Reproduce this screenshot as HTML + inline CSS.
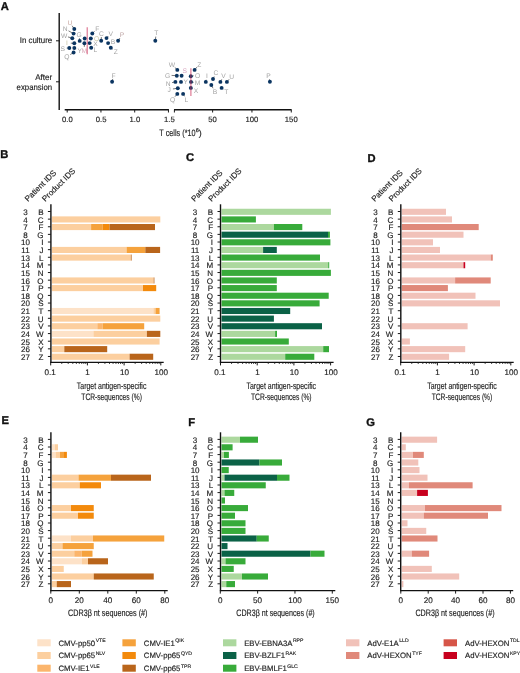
<!DOCTYPE html>
<html><head><meta charset="utf-8"><style>
html,body{margin:0;padding:0;background:#fff;}
svg{display:block;font-family:"Liberation Sans", sans-serif;text-rendering:geometricPrecision;will-change:transform;}
</style></head><body>
<svg width="520" height="673" viewBox="0 0 520 673">
<rect width="520" height="673" fill="#fff"/>
<text x="0.70" y="10.20" font-size="11.2" text-anchor="start" font-weight="bold" fill="#111" stroke="#111" stroke-width="0.35" >A</text>
<text x="0.20" y="158.40" font-size="11.2" text-anchor="start" font-weight="bold" fill="#111" stroke="#111" stroke-width="0.35" >B</text>
<text x="185.90" y="161.30" font-size="11.2" text-anchor="start" font-weight="bold" fill="#111" stroke="#111" stroke-width="0.35" >C</text>
<text x="367.40" y="161.80" font-size="11.2" text-anchor="start" font-weight="bold" fill="#111" stroke="#111" stroke-width="0.35" >D</text>
<text x="1.60" y="423.80" font-size="11.2" text-anchor="start" font-weight="bold" fill="#111" stroke="#111" stroke-width="0.35" >E</text>
<text x="188.20" y="425.50" font-size="11.2" text-anchor="start" font-weight="bold" fill="#111" stroke="#111" stroke-width="0.35" >F</text>
<text x="366.30" y="425.90" font-size="11.2" text-anchor="start" font-weight="bold" fill="#111" stroke="#111" stroke-width="0.35" >G</text>
<line x1="59.20" y1="12.90" x2="59.20" y2="110.00" stroke="#111" stroke-width="1.4" />
<line x1="64.70" y1="109.70" x2="168.90" y2="109.70" stroke="#111" stroke-width="1.4" />
<line x1="174.00" y1="109.70" x2="291.60" y2="109.70" stroke="#111" stroke-width="1.4" />
<line x1="56.00" y1="40.80" x2="59.20" y2="40.80" stroke="#1a1a1a" stroke-width="1.0" />
<line x1="56.00" y1="81.80" x2="59.20" y2="81.80" stroke="#1a1a1a" stroke-width="1.0" />
<line x1="67.20" y1="109.70" x2="67.20" y2="112.50" stroke="#1a1a1a" stroke-width="1.0" />
<text x="67.40" y="121.90" font-size="7.7" text-anchor="middle" font-weight="normal" fill="#222" stroke="#222" stroke-width="0.15" >0.0</text>
<line x1="100.95" y1="109.70" x2="100.95" y2="112.50" stroke="#1a1a1a" stroke-width="1.0" />
<text x="101.15" y="121.90" font-size="7.7" text-anchor="middle" font-weight="normal" fill="#222" stroke="#222" stroke-width="0.15" >0.5</text>
<line x1="134.70" y1="109.70" x2="134.70" y2="112.50" stroke="#1a1a1a" stroke-width="1.0" />
<text x="134.90" y="121.90" font-size="7.7" text-anchor="middle" font-weight="normal" fill="#222" stroke="#222" stroke-width="0.15" >1.0</text>
<line x1="168.45" y1="109.70" x2="168.45" y2="112.50" stroke="#1a1a1a" stroke-width="1.0" />
<text x="169.45" y="121.90" font-size="7.7" text-anchor="middle" font-weight="normal" fill="#222" stroke="#222" stroke-width="0.15" >1.5</text>
<line x1="212.62" y1="109.70" x2="212.62" y2="112.50" stroke="#1a1a1a" stroke-width="1.0" />
<text x="212.62" y="121.90" font-size="7.7" text-anchor="middle" font-weight="normal" fill="#222" stroke="#222" stroke-width="0.15" >50</text>
<line x1="251.95" y1="109.70" x2="251.95" y2="112.50" stroke="#1a1a1a" stroke-width="1.0" />
<text x="251.95" y="121.90" font-size="7.7" text-anchor="middle" font-weight="normal" fill="#222" stroke="#222" stroke-width="0.15" >100</text>
<line x1="291.27" y1="109.70" x2="291.27" y2="112.50" stroke="#1a1a1a" stroke-width="1.0" />
<text x="291.27" y="121.90" font-size="7.7" text-anchor="middle" font-weight="normal" fill="#222" stroke="#222" stroke-width="0.15" >150</text>
<line x1="174.40" y1="109.70" x2="174.40" y2="112.50" stroke="#1a1a1a" stroke-width="1.0" />
<text x="159.3" y="135.9" font-size="9.4" fill="#222" stroke="#222" stroke-width="0.15" textLength="36.3" lengthAdjust="spacingAndGlyphs">T cells (*10</text>
<text x="195.8" y="132.2" font-size="5.5" fill="#222" stroke="#222" stroke-width="0.2">6</text>
<text x="198.7" y="135.8" font-size="8.8" fill="#222" stroke="#222" stroke-width="0.15">)</text>
<text x="52.30" y="43.30" font-size="8.3" text-anchor="end" font-weight="normal" fill="#222" stroke="#222" stroke-width="0.15" textLength="32.6" lengthAdjust="spacingAndGlyphs">In culture</text>
<text x="52.10" y="79.80" font-size="8.3" text-anchor="end" font-weight="normal" fill="#222" stroke="#222" stroke-width="0.15" textLength="16.9" lengthAdjust="spacingAndGlyphs">After</text>
<text x="52.10" y="89.60" font-size="8.3" text-anchor="end" font-weight="normal" fill="#222" stroke="#222" stroke-width="0.15" textLength="35.5" lengthAdjust="spacingAndGlyphs">expansion</text>
<text x="69.90" y="24.90" font-size="6.7" text-anchor="middle" font-weight="normal" fill="#c8a8a2" >U</text>
<text x="65.10" y="31.40" font-size="6.7" text-anchor="middle" font-weight="normal" fill="#a4a4a4" >N</text>
<text x="64.20" y="38.20" font-size="6.7" text-anchor="middle" font-weight="normal" fill="#a4a4a4" >W</text>
<text x="66.90" y="45.40" font-size="6.7" text-anchor="middle" font-weight="normal" fill="#c9c4a8" >I</text>
<text x="62.80" y="50.70" font-size="6.7" text-anchor="middle" font-weight="normal" fill="#a4a4a4" >S</text>
<text x="79.70" y="52.80" font-size="6.7" text-anchor="middle" font-weight="normal" fill="#a4a4a4" >Y</text>
<text x="66.90" y="59.00" font-size="6.7" text-anchor="middle" font-weight="normal" fill="#a4a4a4" >Q</text>
<text x="79.10" y="36.70" font-size="6.7" text-anchor="middle" font-weight="normal" fill="#a4a4a4" >G</text>
<text x="84.20" y="53.20" font-size="6.7" text-anchor="middle" font-weight="normal" fill="#d8a8b8" >M</text>
<text x="97.30" y="30.90" font-size="6.7" text-anchor="middle" font-weight="normal" fill="#a4a4a4" >F</text>
<text x="96.50" y="40.50" font-size="6.7" text-anchor="middle" font-weight="normal" fill="#c8c4a0" >O</text>
<text x="95.40" y="46.20" font-size="6.7" text-anchor="middle" font-weight="normal" fill="#a4a4a4" >X</text>
<text x="95.40" y="52.00" font-size="6.7" text-anchor="middle" font-weight="normal" fill="#a4a4a4" >L</text>
<text x="101.50" y="35.50" font-size="6.7" text-anchor="middle" font-weight="normal" fill="#a4a4a4" >C</text>
<text x="110.80" y="35.50" font-size="6.7" text-anchor="middle" font-weight="normal" fill="#a4a4a4" >V</text>
<text x="113.10" y="44.30" font-size="6.7" text-anchor="middle" font-weight="normal" fill="#a4a4a4" >B</text>
<text x="115.80" y="53.90" font-size="6.7" text-anchor="middle" font-weight="normal" fill="#a4a4a4" >Z</text>
<text x="122.10" y="37.20" font-size="6.7" text-anchor="middle" font-weight="normal" fill="#c0a8a8" >P</text>
<text x="156.20" y="35.10" font-size="6.7" text-anchor="middle" font-weight="normal" fill="#a4a4a4" >T</text>
<line x1="72.09" y1="25.73" x2="74.30" y2="29.00" stroke="#222" stroke-width="0.6" />
<circle cx="74.30" cy="29.00" r="1.95" fill="#0b3561"/>
<line x1="68.53" y1="30.86" x2="73.60" y2="33.60" stroke="#222" stroke-width="0.6" />
<circle cx="73.60" cy="33.60" r="1.95" fill="#0b3561"/>
<line x1="67.94" y1="36.91" x2="72.30" y2="38.20" stroke="#222" stroke-width="0.6" />
<circle cx="72.30" cy="38.20" r="1.95" fill="#0b3561"/>
<line x1="70.80" y1="43.16" x2="74.30" y2="43.30" stroke="#222" stroke-width="0.6" />
<circle cx="74.30" cy="43.30" r="1.95" fill="#0b3561"/>
<line x1="66.70" y1="48.12" x2="69.30" y2="48.00" stroke="#222" stroke-width="0.6" />
<circle cx="69.30" cy="48.00" r="1.95" fill="#0b3561"/>
<line x1="76.14" y1="48.82" x2="74.30" y2="48.00" stroke="#222" stroke-width="0.6" />
<circle cx="74.30" cy="48.00" r="1.95" fill="#0b3561"/>
<line x1="70.23" y1="54.56" x2="73.60" y2="52.50" stroke="#222" stroke-width="0.6" />
<circle cx="73.60" cy="52.50" r="1.95" fill="#0b3561"/>
<line x1="79.45" y1="38.18" x2="79.70" y2="40.90" stroke="#222" stroke-width="0.6" />
<circle cx="79.70" cy="40.90" r="1.95" fill="#0b3561"/>
<circle cx="84.70" cy="38.50" r="1.95" fill="#0b3561"/>
<line x1="84.30" y1="46.90" x2="84.40" y2="43.30" stroke="#222" stroke-width="0.6" />
<circle cx="84.40" cy="43.30" r="1.95" fill="#0b3561"/>
<line x1="94.54" y1="31.26" x2="92.30" y2="33.50" stroke="#222" stroke-width="0.6" />
<circle cx="92.30" cy="33.50" r="1.95" fill="#0b3561"/>
<line x1="92.61" y1="38.37" x2="90.80" y2="38.50" stroke="#222" stroke-width="0.6" />
<circle cx="90.80" cy="38.50" r="1.95" fill="#0b3561"/>
<line x1="91.53" y1="43.33" x2="89.60" y2="43.10" stroke="#222" stroke-width="0.6" />
<circle cx="89.60" cy="43.10" r="1.95" fill="#0b3561"/>
<circle cx="91.20" cy="47.70" r="1.95" fill="#0b3561"/>
<line x1="101.35" y1="37.00" x2="101.20" y2="40.80" stroke="#222" stroke-width="0.6" />
<circle cx="101.20" cy="40.80" r="1.95" fill="#0b3561"/>
<line x1="108.26" y1="36.06" x2="106.50" y2="38.10" stroke="#222" stroke-width="0.6" />
<circle cx="106.50" cy="38.10" r="1.95" fill="#0b3561"/>
<circle cx="108.10" cy="43.10" r="1.95" fill="#0b3561"/>
<line x1="112.69" y1="49.14" x2="110.80" y2="47.70" stroke="#222" stroke-width="0.6" />
<circle cx="110.80" cy="47.70" r="1.95" fill="#0b3561"/>
<line x1="119.94" y1="38.04" x2="118.10" y2="40.80" stroke="#222" stroke-width="0.6" />
<circle cx="118.10" cy="40.80" r="1.95" fill="#0b3561"/>
<line x1="155.77" y1="36.58" x2="155.30" y2="40.80" stroke="#222" stroke-width="0.6" />
<circle cx="155.30" cy="40.80" r="1.95" fill="#0b3561"/>
<text x="172.00" y="67.00" font-size="6.7" text-anchor="middle" font-weight="normal" fill="#a4a4a4" >W</text>
<text x="199.40" y="66.50" font-size="6.7" text-anchor="middle" font-weight="normal" fill="#a4a4a4" >Z</text>
<text x="167.70" y="77.60" font-size="6.7" text-anchor="middle" font-weight="normal" fill="#a4a4a4" >G</text>
<text x="184.80" y="73.30" font-size="6.7" text-anchor="middle" font-weight="normal" fill="#d8a8c0" >S</text>
<text x="197.50" y="77.60" font-size="6.7" text-anchor="middle" font-weight="normal" fill="#a4a4a4" >O</text>
<text x="168.20" y="85.80" font-size="6.7" text-anchor="middle" font-weight="normal" fill="#a4a4a4" >N</text>
<text x="185.80" y="84.30" font-size="6.7" text-anchor="middle" font-weight="normal" fill="#a4a4a4" >Y</text>
<text x="197.50" y="85.30" font-size="6.7" text-anchor="middle" font-weight="normal" fill="#a4a4a4" >M</text>
<text x="169.10" y="92.00" font-size="6.7" text-anchor="middle" font-weight="normal" fill="#a4a4a4" >J</text>
<text x="196.00" y="92.50" font-size="6.7" text-anchor="middle" font-weight="normal" fill="#a4a4a4" >X</text>
<text x="172.50" y="102.10" font-size="6.7" text-anchor="middle" font-weight="normal" fill="#a4a4a4" >Q</text>
<text x="186.40" y="102.10" font-size="6.7" text-anchor="middle" font-weight="normal" fill="#a4a4a4" >L</text>
<text x="206.90" y="78.30" font-size="6.7" text-anchor="middle" font-weight="normal" fill="#a4a4a4" >I</text>
<text x="215.90" y="75.40" font-size="6.7" text-anchor="middle" font-weight="normal" fill="#a4a4a4" >C</text>
<text x="214.90" y="94.10" font-size="6.7" text-anchor="middle" font-weight="normal" fill="#a4a4a4" >B</text>
<text x="223.60" y="78.30" font-size="6.7" text-anchor="middle" font-weight="normal" fill="#a4a4a4" >V</text>
<text x="231.70" y="78.70" font-size="6.7" text-anchor="middle" font-weight="normal" fill="#a4a4a4" >U</text>
<text x="226.40" y="93.70" font-size="6.7" text-anchor="middle" font-weight="normal" fill="#a4a4a4" >T</text>
<text x="268.60" y="77.80" font-size="6.7" text-anchor="middle" font-weight="normal" fill="#a4a4a4" >P</text>
<text x="113.60" y="77.50" font-size="6.7" text-anchor="middle" font-weight="normal" fill="#a4a4a4" >F</text>
<line x1="174.76" y1="67.36" x2="177.30" y2="69.90" stroke="#222" stroke-width="0.6" />
<circle cx="177.30" cy="69.90" r="1.95" fill="#0b3561"/>
<line x1="196.91" y1="67.10" x2="194.60" y2="69.90" stroke="#222" stroke-width="0.6" />
<circle cx="194.60" cy="69.90" r="1.95" fill="#0b3561"/>
<line x1="171.59" y1="75.41" x2="176.80" y2="75.70" stroke="#222" stroke-width="0.6" />
<circle cx="176.80" cy="75.70" r="1.95" fill="#0b3561"/>
<line x1="182.64" y1="74.14" x2="181.60" y2="75.70" stroke="#222" stroke-width="0.6" />
<circle cx="181.60" cy="75.70" r="1.95" fill="#0b3561"/>
<line x1="193.64" y1="75.78" x2="190.80" y2="76.20" stroke="#222" stroke-width="0.6" />
<circle cx="190.80" cy="76.20" r="1.95" fill="#0b3561"/>
<line x1="172.02" y1="82.60" x2="175.40" y2="81.90" stroke="#222" stroke-width="0.6" />
<circle cx="175.40" cy="81.90" r="1.95" fill="#0b3561"/>
<circle cx="181.00" cy="81.90" r="1.95" fill="#0b3561"/>
<line x1="193.65" y1="82.31" x2="191.00" y2="81.90" stroke="#222" stroke-width="0.6" />
<circle cx="191.00" cy="81.90" r="1.95" fill="#0b3561"/>
<line x1="172.95" y1="88.98" x2="177.80" y2="88.20" stroke="#222" stroke-width="0.6" />
<circle cx="177.80" cy="88.20" r="1.95" fill="#0b3561"/>
<line x1="192.41" y1="88.58" x2="190.80" y2="87.90" stroke="#222" stroke-width="0.6" />
<circle cx="190.80" cy="87.90" r="1.95" fill="#0b3561"/>
<line x1="174.99" y1="96.70" x2="177.30" y2="93.90" stroke="#222" stroke-width="0.6" />
<circle cx="177.30" cy="93.90" r="1.95" fill="#0b3561"/>
<line x1="184.47" y1="96.31" x2="183.10" y2="93.90" stroke="#222" stroke-width="0.6" />
<circle cx="183.10" cy="93.90" r="1.95" fill="#0b3561"/>
<line x1="206.20" y1="79.74" x2="205.80" y2="81.90" stroke="#222" stroke-width="0.6" />
<circle cx="205.80" cy="81.90" r="1.95" fill="#0b3561"/>
<line x1="214.20" y1="76.51" x2="213.00" y2="79.00" stroke="#222" stroke-width="0.6" />
<circle cx="213.00" cy="79.00" r="1.95" fill="#0b3561"/>
<line x1="213.05" y1="88.26" x2="211.30" y2="85.00" stroke="#222" stroke-width="0.6" />
<circle cx="211.30" cy="85.00" r="1.95" fill="#0b3561"/>
<line x1="221.76" y1="79.34" x2="220.40" y2="81.90" stroke="#222" stroke-width="0.6" />
<circle cx="220.40" cy="81.90" r="1.95" fill="#0b3561"/>
<line x1="229.16" y1="79.26" x2="226.90" y2="81.90" stroke="#222" stroke-width="0.6" />
<circle cx="226.90" cy="81.90" r="1.95" fill="#0b3561"/>
<line x1="223.22" y1="89.05" x2="221.60" y2="87.90" stroke="#222" stroke-width="0.6" />
<circle cx="221.60" cy="87.90" r="1.95" fill="#0b3561"/>
<line x1="269.38" y1="79.22" x2="269.90" y2="81.80" stroke="#222" stroke-width="0.6" />
<circle cx="269.90" cy="81.80" r="1.95" fill="#0b3561"/>
<line x1="112.75" y1="78.91" x2="112.10" y2="81.80" stroke="#222" stroke-width="0.6" />
<circle cx="112.10" cy="81.80" r="1.95" fill="#0b3561"/>
<line x1="87.20" y1="27.30" x2="87.20" y2="54.20" stroke="#cc2f58" stroke-width="1.1" stroke-opacity="0.7"/>
<line x1="190.90" y1="68.20" x2="190.90" y2="95.90" stroke="#cc2f58" stroke-width="1.1" stroke-opacity="0.7"/>
<rect x="51.90" y="216.38" width="108.40" height="6.10" fill="#fccf9f"/>
<rect x="51.90" y="224.01" width="39.20" height="6.10" fill="#fccf9f"/>
<rect x="91.10" y="224.01" width="11.40" height="6.10" fill="#f5a23c"/>
<rect x="102.50" y="224.01" width="7.00" height="6.10" fill="#f38a0c"/>
<rect x="109.50" y="224.01" width="45.50" height="6.10" fill="#b9651b"/>
<rect x="51.90" y="246.90" width="74.70" height="6.10" fill="#fccf9f"/>
<rect x="126.60" y="246.90" width="18.70" height="6.10" fill="#f5a23c"/>
<rect x="145.30" y="246.90" width="14.80" height="6.10" fill="#b9651b"/>
<rect x="51.90" y="254.53" width="79.00" height="6.10" fill="#fccf9f"/>
<rect x="130.90" y="254.53" width="0.70" height="6.10" fill="#b9651b"/>
<rect x="51.90" y="277.42" width="101.80" height="6.10" fill="#fccf9f"/>
<rect x="153.70" y="277.42" width="0.70" height="6.10" fill="#b9651b"/>
<rect x="51.90" y="285.05" width="91.10" height="6.10" fill="#fccf9f"/>
<rect x="143.00" y="285.05" width="13.20" height="6.10" fill="#f38a0c"/>
<rect x="51.90" y="307.94" width="101.50" height="6.10" fill="#fde2c8"/>
<rect x="153.40" y="307.94" width="2.10" height="6.10" fill="#fccf9f"/>
<rect x="155.50" y="307.94" width="4.10" height="6.10" fill="#f5a23c"/>
<rect x="51.90" y="315.57" width="108.40" height="6.10" fill="#fccf9f"/>
<rect x="51.90" y="323.20" width="45.40" height="6.10" fill="#fccf9f"/>
<rect x="97.30" y="323.20" width="5.30" height="6.10" fill="#fbb56c"/>
<rect x="102.60" y="323.20" width="41.60" height="6.10" fill="#f5a23c"/>
<rect x="51.90" y="330.83" width="41.50" height="6.10" fill="#fde2c8"/>
<rect x="93.40" y="330.83" width="53.50" height="6.10" fill="#fccf9f"/>
<rect x="146.90" y="330.83" width="13.40" height="6.10" fill="#b9651b"/>
<rect x="51.90" y="338.46" width="107.70" height="6.10" fill="#fccf9f"/>
<rect x="51.90" y="346.09" width="12.40" height="6.10" fill="#fccf9f"/>
<rect x="64.30" y="346.09" width="42.90" height="6.10" fill="#b9651b"/>
<rect x="51.90" y="353.72" width="77.70" height="6.10" fill="#fccf9f"/>
<rect x="129.60" y="353.72" width="23.60" height="6.10" fill="#b9651b"/>
<line x1="50.90" y1="204.30" x2="50.90" y2="363.00" stroke="#111" stroke-width="1.4" />
<line x1="50.30" y1="362.40" x2="163.70" y2="362.40" stroke="#111" stroke-width="1.4" />
<line x1="47.90" y1="211.50" x2="50.90" y2="211.50" stroke="#1a1a1a" stroke-width="1.0" />
<text x="25.50" y="214.90" font-size="8.0" text-anchor="middle" font-weight="normal" fill="#222" stroke="#222" stroke-width="0.15" >3</text>
<text x="43.50" y="214.90" font-size="8.0" text-anchor="end" font-weight="normal" fill="#222" stroke="#222" stroke-width="0.15" >B</text>
<line x1="47.90" y1="219.13" x2="50.90" y2="219.13" stroke="#1a1a1a" stroke-width="1.0" />
<text x="25.50" y="222.53" font-size="8.0" text-anchor="middle" font-weight="normal" fill="#222" stroke="#222" stroke-width="0.15" >4</text>
<text x="43.50" y="222.53" font-size="8.0" text-anchor="end" font-weight="normal" fill="#222" stroke="#222" stroke-width="0.15" >C</text>
<line x1="47.90" y1="226.76" x2="50.90" y2="226.76" stroke="#1a1a1a" stroke-width="1.0" />
<text x="25.50" y="230.16" font-size="8.0" text-anchor="middle" font-weight="normal" fill="#222" stroke="#222" stroke-width="0.15" >7</text>
<text x="43.50" y="230.16" font-size="8.0" text-anchor="end" font-weight="normal" fill="#222" stroke="#222" stroke-width="0.15" >F</text>
<line x1="47.90" y1="234.39" x2="50.90" y2="234.39" stroke="#1a1a1a" stroke-width="1.0" />
<text x="25.50" y="237.79" font-size="8.0" text-anchor="middle" font-weight="normal" fill="#222" stroke="#222" stroke-width="0.15" >8</text>
<text x="43.50" y="237.79" font-size="8.0" text-anchor="end" font-weight="normal" fill="#222" stroke="#222" stroke-width="0.15" >G</text>
<line x1="47.90" y1="242.02" x2="50.90" y2="242.02" stroke="#1a1a1a" stroke-width="1.0" />
<text x="25.50" y="245.42" font-size="8.0" text-anchor="middle" font-weight="normal" fill="#222" stroke="#222" stroke-width="0.15" >10</text>
<text x="43.50" y="245.42" font-size="8.0" text-anchor="end" font-weight="normal" fill="#222" stroke="#222" stroke-width="0.15" >I</text>
<line x1="47.90" y1="249.65" x2="50.90" y2="249.65" stroke="#1a1a1a" stroke-width="1.0" />
<text x="25.50" y="253.05" font-size="8.0" text-anchor="middle" font-weight="normal" fill="#222" stroke="#222" stroke-width="0.15" >11</text>
<text x="43.50" y="253.05" font-size="8.0" text-anchor="end" font-weight="normal" fill="#222" stroke="#222" stroke-width="0.15" >J</text>
<line x1="47.90" y1="257.28" x2="50.90" y2="257.28" stroke="#1a1a1a" stroke-width="1.0" />
<text x="25.50" y="260.68" font-size="8.0" text-anchor="middle" font-weight="normal" fill="#222" stroke="#222" stroke-width="0.15" >13</text>
<text x="43.50" y="260.68" font-size="8.0" text-anchor="end" font-weight="normal" fill="#222" stroke="#222" stroke-width="0.15" >L</text>
<line x1="47.90" y1="264.91" x2="50.90" y2="264.91" stroke="#1a1a1a" stroke-width="1.0" />
<text x="25.50" y="268.31" font-size="8.0" text-anchor="middle" font-weight="normal" fill="#222" stroke="#222" stroke-width="0.15" >14</text>
<text x="43.50" y="268.31" font-size="8.0" text-anchor="end" font-weight="normal" fill="#222" stroke="#222" stroke-width="0.15" >M</text>
<line x1="47.90" y1="272.54" x2="50.90" y2="272.54" stroke="#1a1a1a" stroke-width="1.0" />
<text x="25.50" y="275.94" font-size="8.0" text-anchor="middle" font-weight="normal" fill="#222" stroke="#222" stroke-width="0.15" >15</text>
<text x="43.50" y="275.94" font-size="8.0" text-anchor="end" font-weight="normal" fill="#222" stroke="#222" stroke-width="0.15" >N</text>
<line x1="47.90" y1="280.17" x2="50.90" y2="280.17" stroke="#1a1a1a" stroke-width="1.0" />
<text x="25.50" y="283.57" font-size="8.0" text-anchor="middle" font-weight="normal" fill="#222" stroke="#222" stroke-width="0.15" >16</text>
<text x="43.50" y="283.57" font-size="8.0" text-anchor="end" font-weight="normal" fill="#222" stroke="#222" stroke-width="0.15" >O</text>
<line x1="47.90" y1="287.80" x2="50.90" y2="287.80" stroke="#1a1a1a" stroke-width="1.0" />
<text x="25.50" y="291.20" font-size="8.0" text-anchor="middle" font-weight="normal" fill="#222" stroke="#222" stroke-width="0.15" >17</text>
<text x="43.50" y="291.20" font-size="8.0" text-anchor="end" font-weight="normal" fill="#222" stroke="#222" stroke-width="0.15" >P</text>
<line x1="47.90" y1="295.43" x2="50.90" y2="295.43" stroke="#1a1a1a" stroke-width="1.0" />
<text x="25.50" y="298.83" font-size="8.0" text-anchor="middle" font-weight="normal" fill="#222" stroke="#222" stroke-width="0.15" >18</text>
<text x="43.50" y="298.83" font-size="8.0" text-anchor="end" font-weight="normal" fill="#222" stroke="#222" stroke-width="0.15" >Q</text>
<line x1="47.90" y1="303.06" x2="50.90" y2="303.06" stroke="#1a1a1a" stroke-width="1.0" />
<text x="25.50" y="306.46" font-size="8.0" text-anchor="middle" font-weight="normal" fill="#222" stroke="#222" stroke-width="0.15" >20</text>
<text x="43.50" y="306.46" font-size="8.0" text-anchor="end" font-weight="normal" fill="#222" stroke="#222" stroke-width="0.15" >S</text>
<line x1="47.90" y1="310.69" x2="50.90" y2="310.69" stroke="#1a1a1a" stroke-width="1.0" />
<text x="25.50" y="314.09" font-size="8.0" text-anchor="middle" font-weight="normal" fill="#222" stroke="#222" stroke-width="0.15" >21</text>
<text x="43.50" y="314.09" font-size="8.0" text-anchor="end" font-weight="normal" fill="#222" stroke="#222" stroke-width="0.15" >T</text>
<line x1="47.90" y1="318.32" x2="50.90" y2="318.32" stroke="#1a1a1a" stroke-width="1.0" />
<text x="25.50" y="321.72" font-size="8.0" text-anchor="middle" font-weight="normal" fill="#222" stroke="#222" stroke-width="0.15" >22</text>
<text x="43.50" y="321.72" font-size="8.0" text-anchor="end" font-weight="normal" fill="#222" stroke="#222" stroke-width="0.15" >U</text>
<line x1="47.90" y1="325.95" x2="50.90" y2="325.95" stroke="#1a1a1a" stroke-width="1.0" />
<text x="25.50" y="329.35" font-size="8.0" text-anchor="middle" font-weight="normal" fill="#222" stroke="#222" stroke-width="0.15" >23</text>
<text x="43.50" y="329.35" font-size="8.0" text-anchor="end" font-weight="normal" fill="#222" stroke="#222" stroke-width="0.15" >V</text>
<line x1="47.90" y1="333.58" x2="50.90" y2="333.58" stroke="#1a1a1a" stroke-width="1.0" />
<text x="25.50" y="336.98" font-size="8.0" text-anchor="middle" font-weight="normal" fill="#222" stroke="#222" stroke-width="0.15" >24</text>
<text x="43.50" y="336.98" font-size="8.0" text-anchor="end" font-weight="normal" fill="#222" stroke="#222" stroke-width="0.15" >W</text>
<line x1="47.90" y1="341.21" x2="50.90" y2="341.21" stroke="#1a1a1a" stroke-width="1.0" />
<text x="25.50" y="344.61" font-size="8.0" text-anchor="middle" font-weight="normal" fill="#222" stroke="#222" stroke-width="0.15" >25</text>
<text x="43.50" y="344.61" font-size="8.0" text-anchor="end" font-weight="normal" fill="#222" stroke="#222" stroke-width="0.15" >X</text>
<line x1="47.90" y1="348.84" x2="50.90" y2="348.84" stroke="#1a1a1a" stroke-width="1.0" />
<text x="25.50" y="352.24" font-size="8.0" text-anchor="middle" font-weight="normal" fill="#222" stroke="#222" stroke-width="0.15" >26</text>
<text x="43.50" y="352.24" font-size="8.0" text-anchor="end" font-weight="normal" fill="#222" stroke="#222" stroke-width="0.15" >Y</text>
<line x1="47.90" y1="356.47" x2="50.90" y2="356.47" stroke="#1a1a1a" stroke-width="1.0" />
<text x="25.50" y="359.87" font-size="8.0" text-anchor="middle" font-weight="normal" fill="#222" stroke="#222" stroke-width="0.15" >27</text>
<text x="43.50" y="359.87" font-size="8.0" text-anchor="end" font-weight="normal" fill="#222" stroke="#222" stroke-width="0.15" >Z</text>
<line x1="50.70" y1="362.40" x2="50.70" y2="365.40" stroke="#1a1a1a" stroke-width="1.0" />
<line x1="87.40" y1="362.40" x2="87.40" y2="365.40" stroke="#1a1a1a" stroke-width="1.0" />
<line x1="124.10" y1="362.40" x2="124.10" y2="365.40" stroke="#1a1a1a" stroke-width="1.0" />
<line x1="160.80" y1="362.40" x2="160.80" y2="365.40" stroke="#1a1a1a" stroke-width="1.0" />
<line x1="61.75" y1="362.40" x2="61.75" y2="364.00" stroke="#1a1a1a" stroke-width="0.8" />
<line x1="68.21" y1="362.40" x2="68.21" y2="364.00" stroke="#1a1a1a" stroke-width="0.8" />
<line x1="72.80" y1="362.40" x2="72.80" y2="364.00" stroke="#1a1a1a" stroke-width="0.8" />
<line x1="76.35" y1="362.40" x2="76.35" y2="364.00" stroke="#1a1a1a" stroke-width="0.8" />
<line x1="79.26" y1="362.40" x2="79.26" y2="364.00" stroke="#1a1a1a" stroke-width="0.8" />
<line x1="81.72" y1="362.40" x2="81.72" y2="364.00" stroke="#1a1a1a" stroke-width="0.8" />
<line x1="83.84" y1="362.40" x2="83.84" y2="364.00" stroke="#1a1a1a" stroke-width="0.8" />
<line x1="85.72" y1="362.40" x2="85.72" y2="364.00" stroke="#1a1a1a" stroke-width="0.8" />
<line x1="98.45" y1="362.40" x2="98.45" y2="364.00" stroke="#1a1a1a" stroke-width="0.8" />
<line x1="104.91" y1="362.40" x2="104.91" y2="364.00" stroke="#1a1a1a" stroke-width="0.8" />
<line x1="109.50" y1="362.40" x2="109.50" y2="364.00" stroke="#1a1a1a" stroke-width="0.8" />
<line x1="113.05" y1="362.40" x2="113.05" y2="364.00" stroke="#1a1a1a" stroke-width="0.8" />
<line x1="115.96" y1="362.40" x2="115.96" y2="364.00" stroke="#1a1a1a" stroke-width="0.8" />
<line x1="118.42" y1="362.40" x2="118.42" y2="364.00" stroke="#1a1a1a" stroke-width="0.8" />
<line x1="120.54" y1="362.40" x2="120.54" y2="364.00" stroke="#1a1a1a" stroke-width="0.8" />
<line x1="122.42" y1="362.40" x2="122.42" y2="364.00" stroke="#1a1a1a" stroke-width="0.8" />
<line x1="135.15" y1="362.40" x2="135.15" y2="364.00" stroke="#1a1a1a" stroke-width="0.8" />
<line x1="141.61" y1="362.40" x2="141.61" y2="364.00" stroke="#1a1a1a" stroke-width="0.8" />
<line x1="146.20" y1="362.40" x2="146.20" y2="364.00" stroke="#1a1a1a" stroke-width="0.8" />
<line x1="149.75" y1="362.40" x2="149.75" y2="364.00" stroke="#1a1a1a" stroke-width="0.8" />
<line x1="152.66" y1="362.40" x2="152.66" y2="364.00" stroke="#1a1a1a" stroke-width="0.8" />
<line x1="155.12" y1="362.40" x2="155.12" y2="364.00" stroke="#1a1a1a" stroke-width="0.8" />
<line x1="157.24" y1="362.40" x2="157.24" y2="364.00" stroke="#1a1a1a" stroke-width="0.8" />
<line x1="159.12" y1="362.40" x2="159.12" y2="364.00" stroke="#1a1a1a" stroke-width="0.8" />
<text x="50.20" y="374.70" font-size="8.1" text-anchor="middle" font-weight="normal" fill="#222" stroke="#222" stroke-width="0.15" >0.1</text>
<text x="87.60" y="374.70" font-size="8.1" text-anchor="middle" font-weight="normal" fill="#222" stroke="#222" stroke-width="0.15" >1</text>
<text x="124.40" y="374.70" font-size="8.1" text-anchor="middle" font-weight="normal" fill="#222" stroke="#222" stroke-width="0.15" >10</text>
<text x="161.20" y="374.70" font-size="8.1" text-anchor="middle" font-weight="normal" fill="#222" stroke="#222" stroke-width="0.15" >100</text>
<text x="76.80" y="389.00" font-size="9.4" fill="#222" stroke="#222" stroke-width="0.15" textLength="69.60" lengthAdjust="spacingAndGlyphs">Target antigen-specific</text>
<text x="81.30" y="400.30" font-size="9.4" fill="#222" stroke="#222" stroke-width="0.15" textLength="60.60" lengthAdjust="spacingAndGlyphs">TCR-sequences (%)</text>
<rect x="221.50" y="208.75" width="109.40" height="6.10" fill="#acd89e"/>
<rect x="221.50" y="216.38" width="34.40" height="6.10" fill="#38ab3a"/>
<rect x="221.50" y="224.01" width="52.40" height="6.10" fill="#acd89e"/>
<rect x="273.90" y="224.01" width="28.40" height="6.10" fill="#38ab3a"/>
<rect x="221.50" y="231.64" width="106.50" height="6.10" fill="#0b6247"/>
<rect x="328.00" y="231.64" width="1.90" height="6.10" fill="#38ab3a"/>
<rect x="221.50" y="239.27" width="108.90" height="6.10" fill="#38ab3a"/>
<rect x="221.50" y="246.90" width="41.60" height="6.10" fill="#acd89e"/>
<rect x="263.10" y="246.90" width="13.70" height="6.10" fill="#0b6247"/>
<rect x="221.50" y="254.53" width="98.50" height="6.10" fill="#38ab3a"/>
<rect x="221.50" y="262.16" width="106.70" height="6.10" fill="#acd89e"/>
<rect x="328.20" y="262.16" width="1.00" height="6.10" fill="#38ab3a"/>
<rect x="221.50" y="269.79" width="109.40" height="6.10" fill="#38ab3a"/>
<rect x="221.50" y="277.42" width="55.30" height="6.10" fill="#38ab3a"/>
<rect x="221.50" y="285.05" width="55.30" height="6.10" fill="#38ab3a"/>
<rect x="221.50" y="292.68" width="107.20" height="6.10" fill="#38ab3a"/>
<rect x="221.50" y="300.31" width="98.10" height="6.10" fill="#38ab3a"/>
<rect x="221.50" y="307.94" width="68.70" height="6.10" fill="#0b6247"/>
<rect x="221.50" y="315.57" width="52.40" height="6.10" fill="#0b6247"/>
<rect x="221.50" y="323.20" width="100.50" height="6.10" fill="#0b6247"/>
<rect x="221.50" y="330.83" width="53.60" height="6.10" fill="#acd89e"/>
<rect x="275.10" y="330.83" width="1.90" height="6.10" fill="#38ab3a"/>
<rect x="221.50" y="338.46" width="67.30" height="6.10" fill="#38ab3a"/>
<rect x="221.50" y="346.09" width="101.70" height="6.10" fill="#acd89e"/>
<rect x="323.20" y="346.09" width="5.80" height="6.10" fill="#38ab3a"/>
<rect x="221.50" y="353.72" width="63.70" height="6.10" fill="#acd89e"/>
<rect x="285.20" y="353.72" width="29.10" height="6.10" fill="#38ab3a"/>
<line x1="220.50" y1="204.30" x2="220.50" y2="363.00" stroke="#111" stroke-width="1.4" />
<line x1="219.90" y1="362.40" x2="333.60" y2="362.40" stroke="#111" stroke-width="1.4" />
<line x1="217.50" y1="211.50" x2="220.50" y2="211.50" stroke="#1a1a1a" stroke-width="1.0" />
<text x="195.10" y="214.90" font-size="8.0" text-anchor="middle" font-weight="normal" fill="#222" stroke="#222" stroke-width="0.15" >3</text>
<text x="213.10" y="214.90" font-size="8.0" text-anchor="end" font-weight="normal" fill="#222" stroke="#222" stroke-width="0.15" >B</text>
<line x1="217.50" y1="219.13" x2="220.50" y2="219.13" stroke="#1a1a1a" stroke-width="1.0" />
<text x="195.10" y="222.53" font-size="8.0" text-anchor="middle" font-weight="normal" fill="#222" stroke="#222" stroke-width="0.15" >4</text>
<text x="213.10" y="222.53" font-size="8.0" text-anchor="end" font-weight="normal" fill="#222" stroke="#222" stroke-width="0.15" >C</text>
<line x1="217.50" y1="226.76" x2="220.50" y2="226.76" stroke="#1a1a1a" stroke-width="1.0" />
<text x="195.10" y="230.16" font-size="8.0" text-anchor="middle" font-weight="normal" fill="#222" stroke="#222" stroke-width="0.15" >7</text>
<text x="213.10" y="230.16" font-size="8.0" text-anchor="end" font-weight="normal" fill="#222" stroke="#222" stroke-width="0.15" >F</text>
<line x1="217.50" y1="234.39" x2="220.50" y2="234.39" stroke="#1a1a1a" stroke-width="1.0" />
<text x="195.10" y="237.79" font-size="8.0" text-anchor="middle" font-weight="normal" fill="#222" stroke="#222" stroke-width="0.15" >8</text>
<text x="213.10" y="237.79" font-size="8.0" text-anchor="end" font-weight="normal" fill="#222" stroke="#222" stroke-width="0.15" >G</text>
<line x1="217.50" y1="242.02" x2="220.50" y2="242.02" stroke="#1a1a1a" stroke-width="1.0" />
<text x="195.10" y="245.42" font-size="8.0" text-anchor="middle" font-weight="normal" fill="#222" stroke="#222" stroke-width="0.15" >10</text>
<text x="213.10" y="245.42" font-size="8.0" text-anchor="end" font-weight="normal" fill="#222" stroke="#222" stroke-width="0.15" >I</text>
<line x1="217.50" y1="249.65" x2="220.50" y2="249.65" stroke="#1a1a1a" stroke-width="1.0" />
<text x="195.10" y="253.05" font-size="8.0" text-anchor="middle" font-weight="normal" fill="#222" stroke="#222" stroke-width="0.15" >11</text>
<text x="213.10" y="253.05" font-size="8.0" text-anchor="end" font-weight="normal" fill="#222" stroke="#222" stroke-width="0.15" >J</text>
<line x1="217.50" y1="257.28" x2="220.50" y2="257.28" stroke="#1a1a1a" stroke-width="1.0" />
<text x="195.10" y="260.68" font-size="8.0" text-anchor="middle" font-weight="normal" fill="#222" stroke="#222" stroke-width="0.15" >13</text>
<text x="213.10" y="260.68" font-size="8.0" text-anchor="end" font-weight="normal" fill="#222" stroke="#222" stroke-width="0.15" >L</text>
<line x1="217.50" y1="264.91" x2="220.50" y2="264.91" stroke="#1a1a1a" stroke-width="1.0" />
<text x="195.10" y="268.31" font-size="8.0" text-anchor="middle" font-weight="normal" fill="#222" stroke="#222" stroke-width="0.15" >14</text>
<text x="213.10" y="268.31" font-size="8.0" text-anchor="end" font-weight="normal" fill="#222" stroke="#222" stroke-width="0.15" >M</text>
<line x1="217.50" y1="272.54" x2="220.50" y2="272.54" stroke="#1a1a1a" stroke-width="1.0" />
<text x="195.10" y="275.94" font-size="8.0" text-anchor="middle" font-weight="normal" fill="#222" stroke="#222" stroke-width="0.15" >15</text>
<text x="213.10" y="275.94" font-size="8.0" text-anchor="end" font-weight="normal" fill="#222" stroke="#222" stroke-width="0.15" >N</text>
<line x1="217.50" y1="280.17" x2="220.50" y2="280.17" stroke="#1a1a1a" stroke-width="1.0" />
<text x="195.10" y="283.57" font-size="8.0" text-anchor="middle" font-weight="normal" fill="#222" stroke="#222" stroke-width="0.15" >16</text>
<text x="213.10" y="283.57" font-size="8.0" text-anchor="end" font-weight="normal" fill="#222" stroke="#222" stroke-width="0.15" >O</text>
<line x1="217.50" y1="287.80" x2="220.50" y2="287.80" stroke="#1a1a1a" stroke-width="1.0" />
<text x="195.10" y="291.20" font-size="8.0" text-anchor="middle" font-weight="normal" fill="#222" stroke="#222" stroke-width="0.15" >17</text>
<text x="213.10" y="291.20" font-size="8.0" text-anchor="end" font-weight="normal" fill="#222" stroke="#222" stroke-width="0.15" >P</text>
<line x1="217.50" y1="295.43" x2="220.50" y2="295.43" stroke="#1a1a1a" stroke-width="1.0" />
<text x="195.10" y="298.83" font-size="8.0" text-anchor="middle" font-weight="normal" fill="#222" stroke="#222" stroke-width="0.15" >18</text>
<text x="213.10" y="298.83" font-size="8.0" text-anchor="end" font-weight="normal" fill="#222" stroke="#222" stroke-width="0.15" >Q</text>
<line x1="217.50" y1="303.06" x2="220.50" y2="303.06" stroke="#1a1a1a" stroke-width="1.0" />
<text x="195.10" y="306.46" font-size="8.0" text-anchor="middle" font-weight="normal" fill="#222" stroke="#222" stroke-width="0.15" >20</text>
<text x="213.10" y="306.46" font-size="8.0" text-anchor="end" font-weight="normal" fill="#222" stroke="#222" stroke-width="0.15" >S</text>
<line x1="217.50" y1="310.69" x2="220.50" y2="310.69" stroke="#1a1a1a" stroke-width="1.0" />
<text x="195.10" y="314.09" font-size="8.0" text-anchor="middle" font-weight="normal" fill="#222" stroke="#222" stroke-width="0.15" >21</text>
<text x="213.10" y="314.09" font-size="8.0" text-anchor="end" font-weight="normal" fill="#222" stroke="#222" stroke-width="0.15" >T</text>
<line x1="217.50" y1="318.32" x2="220.50" y2="318.32" stroke="#1a1a1a" stroke-width="1.0" />
<text x="195.10" y="321.72" font-size="8.0" text-anchor="middle" font-weight="normal" fill="#222" stroke="#222" stroke-width="0.15" >22</text>
<text x="213.10" y="321.72" font-size="8.0" text-anchor="end" font-weight="normal" fill="#222" stroke="#222" stroke-width="0.15" >U</text>
<line x1="217.50" y1="325.95" x2="220.50" y2="325.95" stroke="#1a1a1a" stroke-width="1.0" />
<text x="195.10" y="329.35" font-size="8.0" text-anchor="middle" font-weight="normal" fill="#222" stroke="#222" stroke-width="0.15" >23</text>
<text x="213.10" y="329.35" font-size="8.0" text-anchor="end" font-weight="normal" fill="#222" stroke="#222" stroke-width="0.15" >V</text>
<line x1="217.50" y1="333.58" x2="220.50" y2="333.58" stroke="#1a1a1a" stroke-width="1.0" />
<text x="195.10" y="336.98" font-size="8.0" text-anchor="middle" font-weight="normal" fill="#222" stroke="#222" stroke-width="0.15" >24</text>
<text x="213.10" y="336.98" font-size="8.0" text-anchor="end" font-weight="normal" fill="#222" stroke="#222" stroke-width="0.15" >W</text>
<line x1="217.50" y1="341.21" x2="220.50" y2="341.21" stroke="#1a1a1a" stroke-width="1.0" />
<text x="195.10" y="344.61" font-size="8.0" text-anchor="middle" font-weight="normal" fill="#222" stroke="#222" stroke-width="0.15" >25</text>
<text x="213.10" y="344.61" font-size="8.0" text-anchor="end" font-weight="normal" fill="#222" stroke="#222" stroke-width="0.15" >X</text>
<line x1="217.50" y1="348.84" x2="220.50" y2="348.84" stroke="#1a1a1a" stroke-width="1.0" />
<text x="195.10" y="352.24" font-size="8.0" text-anchor="middle" font-weight="normal" fill="#222" stroke="#222" stroke-width="0.15" >26</text>
<text x="213.10" y="352.24" font-size="8.0" text-anchor="end" font-weight="normal" fill="#222" stroke="#222" stroke-width="0.15" >Y</text>
<line x1="217.50" y1="356.47" x2="220.50" y2="356.47" stroke="#1a1a1a" stroke-width="1.0" />
<text x="195.10" y="359.87" font-size="8.0" text-anchor="middle" font-weight="normal" fill="#222" stroke="#222" stroke-width="0.15" >27</text>
<text x="213.10" y="359.87" font-size="8.0" text-anchor="end" font-weight="normal" fill="#222" stroke="#222" stroke-width="0.15" >Z</text>
<line x1="220.50" y1="362.40" x2="220.50" y2="365.40" stroke="#1a1a1a" stroke-width="1.0" />
<line x1="257.20" y1="362.40" x2="257.20" y2="365.40" stroke="#1a1a1a" stroke-width="1.0" />
<line x1="293.90" y1="362.40" x2="293.90" y2="365.40" stroke="#1a1a1a" stroke-width="1.0" />
<line x1="330.60" y1="362.40" x2="330.60" y2="365.40" stroke="#1a1a1a" stroke-width="1.0" />
<line x1="231.55" y1="362.40" x2="231.55" y2="364.00" stroke="#1a1a1a" stroke-width="0.8" />
<line x1="238.01" y1="362.40" x2="238.01" y2="364.00" stroke="#1a1a1a" stroke-width="0.8" />
<line x1="242.60" y1="362.40" x2="242.60" y2="364.00" stroke="#1a1a1a" stroke-width="0.8" />
<line x1="246.15" y1="362.40" x2="246.15" y2="364.00" stroke="#1a1a1a" stroke-width="0.8" />
<line x1="249.06" y1="362.40" x2="249.06" y2="364.00" stroke="#1a1a1a" stroke-width="0.8" />
<line x1="251.52" y1="362.40" x2="251.52" y2="364.00" stroke="#1a1a1a" stroke-width="0.8" />
<line x1="253.64" y1="362.40" x2="253.64" y2="364.00" stroke="#1a1a1a" stroke-width="0.8" />
<line x1="255.52" y1="362.40" x2="255.52" y2="364.00" stroke="#1a1a1a" stroke-width="0.8" />
<line x1="268.25" y1="362.40" x2="268.25" y2="364.00" stroke="#1a1a1a" stroke-width="0.8" />
<line x1="274.71" y1="362.40" x2="274.71" y2="364.00" stroke="#1a1a1a" stroke-width="0.8" />
<line x1="279.30" y1="362.40" x2="279.30" y2="364.00" stroke="#1a1a1a" stroke-width="0.8" />
<line x1="282.85" y1="362.40" x2="282.85" y2="364.00" stroke="#1a1a1a" stroke-width="0.8" />
<line x1="285.76" y1="362.40" x2="285.76" y2="364.00" stroke="#1a1a1a" stroke-width="0.8" />
<line x1="288.22" y1="362.40" x2="288.22" y2="364.00" stroke="#1a1a1a" stroke-width="0.8" />
<line x1="290.34" y1="362.40" x2="290.34" y2="364.00" stroke="#1a1a1a" stroke-width="0.8" />
<line x1="292.22" y1="362.40" x2="292.22" y2="364.00" stroke="#1a1a1a" stroke-width="0.8" />
<line x1="304.95" y1="362.40" x2="304.95" y2="364.00" stroke="#1a1a1a" stroke-width="0.8" />
<line x1="311.41" y1="362.40" x2="311.41" y2="364.00" stroke="#1a1a1a" stroke-width="0.8" />
<line x1="316.00" y1="362.40" x2="316.00" y2="364.00" stroke="#1a1a1a" stroke-width="0.8" />
<line x1="319.55" y1="362.40" x2="319.55" y2="364.00" stroke="#1a1a1a" stroke-width="0.8" />
<line x1="322.46" y1="362.40" x2="322.46" y2="364.00" stroke="#1a1a1a" stroke-width="0.8" />
<line x1="324.92" y1="362.40" x2="324.92" y2="364.00" stroke="#1a1a1a" stroke-width="0.8" />
<line x1="327.04" y1="362.40" x2="327.04" y2="364.00" stroke="#1a1a1a" stroke-width="0.8" />
<line x1="328.92" y1="362.40" x2="328.92" y2="364.00" stroke="#1a1a1a" stroke-width="0.8" />
<text x="220.00" y="374.70" font-size="8.1" text-anchor="middle" font-weight="normal" fill="#222" stroke="#222" stroke-width="0.15" >0.1</text>
<text x="257.40" y="374.70" font-size="8.1" text-anchor="middle" font-weight="normal" fill="#222" stroke="#222" stroke-width="0.15" >1</text>
<text x="294.20" y="374.70" font-size="8.1" text-anchor="middle" font-weight="normal" fill="#222" stroke="#222" stroke-width="0.15" >10</text>
<text x="331.00" y="374.70" font-size="8.1" text-anchor="middle" font-weight="normal" fill="#222" stroke="#222" stroke-width="0.15" >100</text>
<text x="246.50" y="389.00" font-size="9.4" fill="#222" stroke="#222" stroke-width="0.15" textLength="69.60" lengthAdjust="spacingAndGlyphs">Target antigen-specific</text>
<text x="251.00" y="400.30" font-size="9.4" fill="#222" stroke="#222" stroke-width="0.15" textLength="60.60" lengthAdjust="spacingAndGlyphs">TCR-sequences (%)</text>
<rect x="401.80" y="208.75" width="44.20" height="6.10" fill="#f1c2b9"/>
<rect x="401.80" y="216.38" width="50.20" height="6.10" fill="#f1c2b9"/>
<rect x="401.80" y="224.01" width="76.90" height="6.10" fill="#e0897a"/>
<rect x="401.80" y="231.64" width="61.70" height="6.10" fill="#f1c2b9"/>
<rect x="401.80" y="239.27" width="31.20" height="6.10" fill="#f1c2b9"/>
<rect x="401.80" y="246.90" width="38.20" height="6.10" fill="#f1c2b9"/>
<rect x="401.80" y="254.53" width="88.90" height="6.10" fill="#f1c2b9"/>
<rect x="490.70" y="254.53" width="2.10" height="6.10" fill="#e0897a"/>
<rect x="401.80" y="262.16" width="61.70" height="6.10" fill="#f1c2b9"/>
<rect x="463.50" y="262.16" width="1.70" height="6.10" fill="#c8001e"/>
<rect x="401.80" y="277.42" width="53.30" height="6.10" fill="#f1c2b9"/>
<rect x="455.10" y="277.42" width="35.60" height="6.10" fill="#e0897a"/>
<rect x="401.80" y="285.05" width="46.10" height="6.10" fill="#e0897a"/>
<rect x="401.80" y="292.68" width="73.70" height="6.10" fill="#f1c2b9"/>
<rect x="401.80" y="300.31" width="98.20" height="6.10" fill="#f1c2b9"/>
<rect x="401.80" y="323.20" width="65.80" height="6.10" fill="#f1c2b9"/>
<rect x="401.80" y="338.46" width="8.10" height="6.10" fill="#f1c2b9"/>
<rect x="401.80" y="346.09" width="63.40" height="6.10" fill="#f1c2b9"/>
<rect x="401.80" y="353.72" width="47.30" height="6.10" fill="#f1c2b9"/>
<line x1="400.80" y1="204.30" x2="400.80" y2="363.00" stroke="#111" stroke-width="1.4" />
<line x1="400.20" y1="362.40" x2="513.70" y2="362.40" stroke="#111" stroke-width="1.4" />
<line x1="397.80" y1="211.50" x2="400.80" y2="211.50" stroke="#1a1a1a" stroke-width="1.0" />
<text x="375.40" y="214.90" font-size="8.0" text-anchor="middle" font-weight="normal" fill="#222" stroke="#222" stroke-width="0.15" >3</text>
<text x="393.40" y="214.90" font-size="8.0" text-anchor="end" font-weight="normal" fill="#222" stroke="#222" stroke-width="0.15" >B</text>
<line x1="397.80" y1="219.13" x2="400.80" y2="219.13" stroke="#1a1a1a" stroke-width="1.0" />
<text x="375.40" y="222.53" font-size="8.0" text-anchor="middle" font-weight="normal" fill="#222" stroke="#222" stroke-width="0.15" >4</text>
<text x="393.40" y="222.53" font-size="8.0" text-anchor="end" font-weight="normal" fill="#222" stroke="#222" stroke-width="0.15" >C</text>
<line x1="397.80" y1="226.76" x2="400.80" y2="226.76" stroke="#1a1a1a" stroke-width="1.0" />
<text x="375.40" y="230.16" font-size="8.0" text-anchor="middle" font-weight="normal" fill="#222" stroke="#222" stroke-width="0.15" >7</text>
<text x="393.40" y="230.16" font-size="8.0" text-anchor="end" font-weight="normal" fill="#222" stroke="#222" stroke-width="0.15" >F</text>
<line x1="397.80" y1="234.39" x2="400.80" y2="234.39" stroke="#1a1a1a" stroke-width="1.0" />
<text x="375.40" y="237.79" font-size="8.0" text-anchor="middle" font-weight="normal" fill="#222" stroke="#222" stroke-width="0.15" >8</text>
<text x="393.40" y="237.79" font-size="8.0" text-anchor="end" font-weight="normal" fill="#222" stroke="#222" stroke-width="0.15" >G</text>
<line x1="397.80" y1="242.02" x2="400.80" y2="242.02" stroke="#1a1a1a" stroke-width="1.0" />
<text x="375.40" y="245.42" font-size="8.0" text-anchor="middle" font-weight="normal" fill="#222" stroke="#222" stroke-width="0.15" >10</text>
<text x="393.40" y="245.42" font-size="8.0" text-anchor="end" font-weight="normal" fill="#222" stroke="#222" stroke-width="0.15" >I</text>
<line x1="397.80" y1="249.65" x2="400.80" y2="249.65" stroke="#1a1a1a" stroke-width="1.0" />
<text x="375.40" y="253.05" font-size="8.0" text-anchor="middle" font-weight="normal" fill="#222" stroke="#222" stroke-width="0.15" >11</text>
<text x="393.40" y="253.05" font-size="8.0" text-anchor="end" font-weight="normal" fill="#222" stroke="#222" stroke-width="0.15" >J</text>
<line x1="397.80" y1="257.28" x2="400.80" y2="257.28" stroke="#1a1a1a" stroke-width="1.0" />
<text x="375.40" y="260.68" font-size="8.0" text-anchor="middle" font-weight="normal" fill="#222" stroke="#222" stroke-width="0.15" >13</text>
<text x="393.40" y="260.68" font-size="8.0" text-anchor="end" font-weight="normal" fill="#222" stroke="#222" stroke-width="0.15" >L</text>
<line x1="397.80" y1="264.91" x2="400.80" y2="264.91" stroke="#1a1a1a" stroke-width="1.0" />
<text x="375.40" y="268.31" font-size="8.0" text-anchor="middle" font-weight="normal" fill="#222" stroke="#222" stroke-width="0.15" >14</text>
<text x="393.40" y="268.31" font-size="8.0" text-anchor="end" font-weight="normal" fill="#222" stroke="#222" stroke-width="0.15" >M</text>
<line x1="397.80" y1="272.54" x2="400.80" y2="272.54" stroke="#1a1a1a" stroke-width="1.0" />
<text x="375.40" y="275.94" font-size="8.0" text-anchor="middle" font-weight="normal" fill="#222" stroke="#222" stroke-width="0.15" >15</text>
<text x="393.40" y="275.94" font-size="8.0" text-anchor="end" font-weight="normal" fill="#222" stroke="#222" stroke-width="0.15" >N</text>
<line x1="397.80" y1="280.17" x2="400.80" y2="280.17" stroke="#1a1a1a" stroke-width="1.0" />
<text x="375.40" y="283.57" font-size="8.0" text-anchor="middle" font-weight="normal" fill="#222" stroke="#222" stroke-width="0.15" >16</text>
<text x="393.40" y="283.57" font-size="8.0" text-anchor="end" font-weight="normal" fill="#222" stroke="#222" stroke-width="0.15" >O</text>
<line x1="397.80" y1="287.80" x2="400.80" y2="287.80" stroke="#1a1a1a" stroke-width="1.0" />
<text x="375.40" y="291.20" font-size="8.0" text-anchor="middle" font-weight="normal" fill="#222" stroke="#222" stroke-width="0.15" >17</text>
<text x="393.40" y="291.20" font-size="8.0" text-anchor="end" font-weight="normal" fill="#222" stroke="#222" stroke-width="0.15" >P</text>
<line x1="397.80" y1="295.43" x2="400.80" y2="295.43" stroke="#1a1a1a" stroke-width="1.0" />
<text x="375.40" y="298.83" font-size="8.0" text-anchor="middle" font-weight="normal" fill="#222" stroke="#222" stroke-width="0.15" >18</text>
<text x="393.40" y="298.83" font-size="8.0" text-anchor="end" font-weight="normal" fill="#222" stroke="#222" stroke-width="0.15" >Q</text>
<line x1="397.80" y1="303.06" x2="400.80" y2="303.06" stroke="#1a1a1a" stroke-width="1.0" />
<text x="375.40" y="306.46" font-size="8.0" text-anchor="middle" font-weight="normal" fill="#222" stroke="#222" stroke-width="0.15" >20</text>
<text x="393.40" y="306.46" font-size="8.0" text-anchor="end" font-weight="normal" fill="#222" stroke="#222" stroke-width="0.15" >S</text>
<line x1="397.80" y1="310.69" x2="400.80" y2="310.69" stroke="#1a1a1a" stroke-width="1.0" />
<text x="375.40" y="314.09" font-size="8.0" text-anchor="middle" font-weight="normal" fill="#222" stroke="#222" stroke-width="0.15" >21</text>
<text x="393.40" y="314.09" font-size="8.0" text-anchor="end" font-weight="normal" fill="#222" stroke="#222" stroke-width="0.15" >T</text>
<line x1="397.80" y1="318.32" x2="400.80" y2="318.32" stroke="#1a1a1a" stroke-width="1.0" />
<text x="375.40" y="321.72" font-size="8.0" text-anchor="middle" font-weight="normal" fill="#222" stroke="#222" stroke-width="0.15" >22</text>
<text x="393.40" y="321.72" font-size="8.0" text-anchor="end" font-weight="normal" fill="#222" stroke="#222" stroke-width="0.15" >U</text>
<line x1="397.80" y1="325.95" x2="400.80" y2="325.95" stroke="#1a1a1a" stroke-width="1.0" />
<text x="375.40" y="329.35" font-size="8.0" text-anchor="middle" font-weight="normal" fill="#222" stroke="#222" stroke-width="0.15" >23</text>
<text x="393.40" y="329.35" font-size="8.0" text-anchor="end" font-weight="normal" fill="#222" stroke="#222" stroke-width="0.15" >V</text>
<line x1="397.80" y1="333.58" x2="400.80" y2="333.58" stroke="#1a1a1a" stroke-width="1.0" />
<text x="375.40" y="336.98" font-size="8.0" text-anchor="middle" font-weight="normal" fill="#222" stroke="#222" stroke-width="0.15" >24</text>
<text x="393.40" y="336.98" font-size="8.0" text-anchor="end" font-weight="normal" fill="#222" stroke="#222" stroke-width="0.15" >W</text>
<line x1="397.80" y1="341.21" x2="400.80" y2="341.21" stroke="#1a1a1a" stroke-width="1.0" />
<text x="375.40" y="344.61" font-size="8.0" text-anchor="middle" font-weight="normal" fill="#222" stroke="#222" stroke-width="0.15" >25</text>
<text x="393.40" y="344.61" font-size="8.0" text-anchor="end" font-weight="normal" fill="#222" stroke="#222" stroke-width="0.15" >X</text>
<line x1="397.80" y1="348.84" x2="400.80" y2="348.84" stroke="#1a1a1a" stroke-width="1.0" />
<text x="375.40" y="352.24" font-size="8.0" text-anchor="middle" font-weight="normal" fill="#222" stroke="#222" stroke-width="0.15" >26</text>
<text x="393.40" y="352.24" font-size="8.0" text-anchor="end" font-weight="normal" fill="#222" stroke="#222" stroke-width="0.15" >Y</text>
<line x1="397.80" y1="356.47" x2="400.80" y2="356.47" stroke="#1a1a1a" stroke-width="1.0" />
<text x="375.40" y="359.87" font-size="8.0" text-anchor="middle" font-weight="normal" fill="#222" stroke="#222" stroke-width="0.15" >27</text>
<text x="393.40" y="359.87" font-size="8.0" text-anchor="end" font-weight="normal" fill="#222" stroke="#222" stroke-width="0.15" >Z</text>
<line x1="400.70" y1="362.40" x2="400.70" y2="365.40" stroke="#1a1a1a" stroke-width="1.0" />
<line x1="437.40" y1="362.40" x2="437.40" y2="365.40" stroke="#1a1a1a" stroke-width="1.0" />
<line x1="474.10" y1="362.40" x2="474.10" y2="365.40" stroke="#1a1a1a" stroke-width="1.0" />
<line x1="510.80" y1="362.40" x2="510.80" y2="365.40" stroke="#1a1a1a" stroke-width="1.0" />
<line x1="411.75" y1="362.40" x2="411.75" y2="364.00" stroke="#1a1a1a" stroke-width="0.8" />
<line x1="418.21" y1="362.40" x2="418.21" y2="364.00" stroke="#1a1a1a" stroke-width="0.8" />
<line x1="422.80" y1="362.40" x2="422.80" y2="364.00" stroke="#1a1a1a" stroke-width="0.8" />
<line x1="426.35" y1="362.40" x2="426.35" y2="364.00" stroke="#1a1a1a" stroke-width="0.8" />
<line x1="429.26" y1="362.40" x2="429.26" y2="364.00" stroke="#1a1a1a" stroke-width="0.8" />
<line x1="431.72" y1="362.40" x2="431.72" y2="364.00" stroke="#1a1a1a" stroke-width="0.8" />
<line x1="433.84" y1="362.40" x2="433.84" y2="364.00" stroke="#1a1a1a" stroke-width="0.8" />
<line x1="435.72" y1="362.40" x2="435.72" y2="364.00" stroke="#1a1a1a" stroke-width="0.8" />
<line x1="448.45" y1="362.40" x2="448.45" y2="364.00" stroke="#1a1a1a" stroke-width="0.8" />
<line x1="454.91" y1="362.40" x2="454.91" y2="364.00" stroke="#1a1a1a" stroke-width="0.8" />
<line x1="459.50" y1="362.40" x2="459.50" y2="364.00" stroke="#1a1a1a" stroke-width="0.8" />
<line x1="463.05" y1="362.40" x2="463.05" y2="364.00" stroke="#1a1a1a" stroke-width="0.8" />
<line x1="465.96" y1="362.40" x2="465.96" y2="364.00" stroke="#1a1a1a" stroke-width="0.8" />
<line x1="468.42" y1="362.40" x2="468.42" y2="364.00" stroke="#1a1a1a" stroke-width="0.8" />
<line x1="470.54" y1="362.40" x2="470.54" y2="364.00" stroke="#1a1a1a" stroke-width="0.8" />
<line x1="472.42" y1="362.40" x2="472.42" y2="364.00" stroke="#1a1a1a" stroke-width="0.8" />
<line x1="485.15" y1="362.40" x2="485.15" y2="364.00" stroke="#1a1a1a" stroke-width="0.8" />
<line x1="491.61" y1="362.40" x2="491.61" y2="364.00" stroke="#1a1a1a" stroke-width="0.8" />
<line x1="496.20" y1="362.40" x2="496.20" y2="364.00" stroke="#1a1a1a" stroke-width="0.8" />
<line x1="499.75" y1="362.40" x2="499.75" y2="364.00" stroke="#1a1a1a" stroke-width="0.8" />
<line x1="502.66" y1="362.40" x2="502.66" y2="364.00" stroke="#1a1a1a" stroke-width="0.8" />
<line x1="505.12" y1="362.40" x2="505.12" y2="364.00" stroke="#1a1a1a" stroke-width="0.8" />
<line x1="507.24" y1="362.40" x2="507.24" y2="364.00" stroke="#1a1a1a" stroke-width="0.8" />
<line x1="509.12" y1="362.40" x2="509.12" y2="364.00" stroke="#1a1a1a" stroke-width="0.8" />
<text x="400.20" y="374.70" font-size="8.1" text-anchor="middle" font-weight="normal" fill="#222" stroke="#222" stroke-width="0.15" >0.1</text>
<text x="437.60" y="374.70" font-size="8.1" text-anchor="middle" font-weight="normal" fill="#222" stroke="#222" stroke-width="0.15" >1</text>
<text x="474.40" y="374.70" font-size="8.1" text-anchor="middle" font-weight="normal" fill="#222" stroke="#222" stroke-width="0.15" >10</text>
<text x="511.20" y="374.70" font-size="8.1" text-anchor="middle" font-weight="normal" fill="#222" stroke="#222" stroke-width="0.15" >100</text>
<text x="427.20" y="389.00" font-size="9.4" fill="#222" stroke="#222" stroke-width="0.15" textLength="69.60" lengthAdjust="spacingAndGlyphs">Target antigen-specific</text>
<text x="431.70" y="400.30" font-size="9.4" fill="#222" stroke="#222" stroke-width="0.15" textLength="60.60" lengthAdjust="spacingAndGlyphs">TCR-sequences (%)</text>
<rect x="51.90" y="444.25" width="3.10" height="6.10" fill="#fde2c8"/>
<rect x="55.00" y="444.25" width="3.00" height="6.10" fill="#fccf9f"/>
<rect x="51.90" y="451.85" width="3.60" height="6.10" fill="#fde2c8"/>
<rect x="55.50" y="451.85" width="4.50" height="6.10" fill="#fccf9f"/>
<rect x="60.00" y="451.85" width="4.00" height="6.10" fill="#f5a23c"/>
<rect x="64.00" y="451.85" width="2.90" height="6.10" fill="#f38a0c"/>
<rect x="51.90" y="474.65" width="26.60" height="6.10" fill="#fccf9f"/>
<rect x="78.50" y="474.65" width="32.50" height="6.10" fill="#f5a23c"/>
<rect x="111.00" y="474.65" width="40.00" height="6.10" fill="#b9651b"/>
<rect x="51.90" y="482.25" width="27.85" height="6.10" fill="#fccf9f"/>
<rect x="79.75" y="482.25" width="21.25" height="6.10" fill="#f38a0c"/>
<rect x="51.90" y="505.05" width="19.10" height="6.10" fill="#fccf9f"/>
<rect x="71.00" y="505.05" width="22.75" height="6.10" fill="#f38a0c"/>
<rect x="51.90" y="512.65" width="26.10" height="6.10" fill="#fccf9f"/>
<rect x="78.00" y="512.65" width="15.75" height="6.10" fill="#f38a0c"/>
<rect x="51.90" y="535.45" width="19.10" height="6.10" fill="#fde2c8"/>
<rect x="71.00" y="535.45" width="22.00" height="6.10" fill="#fccf9f"/>
<rect x="93.00" y="535.45" width="71.25" height="6.10" fill="#f5a23c"/>
<rect x="51.90" y="543.05" width="10.60" height="6.10" fill="#fccf9f"/>
<rect x="62.50" y="543.05" width="31.25" height="6.10" fill="#f5a23c"/>
<rect x="51.90" y="550.65" width="22.35" height="6.10" fill="#fccf9f"/>
<rect x="74.25" y="550.65" width="7.50" height="6.10" fill="#fbb56c"/>
<rect x="81.75" y="550.65" width="10.75" height="6.10" fill="#f5a23c"/>
<rect x="51.90" y="558.25" width="29.85" height="6.10" fill="#fde2c8"/>
<rect x="81.75" y="558.25" width="6.25" height="6.10" fill="#fccf9f"/>
<rect x="88.00" y="558.25" width="20.00" height="6.10" fill="#b9651b"/>
<rect x="51.90" y="565.85" width="11.85" height="6.10" fill="#fccf9f"/>
<rect x="51.90" y="573.45" width="41.85" height="6.10" fill="#fccf9f"/>
<rect x="93.75" y="573.45" width="60.00" height="6.10" fill="#b9651b"/>
<rect x="51.90" y="581.05" width="4.85" height="6.10" fill="#fccf9f"/>
<rect x="56.75" y="581.05" width="14.25" height="6.10" fill="#b9651b"/>
<line x1="50.90" y1="432.30" x2="50.90" y2="591.20" stroke="#111" stroke-width="1.4" />
<line x1="50.30" y1="590.60" x2="167.70" y2="590.60" stroke="#111" stroke-width="1.4" />
<line x1="47.90" y1="439.40" x2="50.90" y2="439.40" stroke="#1a1a1a" stroke-width="1.0" />
<text x="25.50" y="442.80" font-size="8.0" text-anchor="middle" font-weight="normal" fill="#222" stroke="#222" stroke-width="0.15" >3</text>
<text x="43.50" y="442.80" font-size="8.0" text-anchor="end" font-weight="normal" fill="#222" stroke="#222" stroke-width="0.15" >B</text>
<line x1="47.90" y1="447.00" x2="50.90" y2="447.00" stroke="#1a1a1a" stroke-width="1.0" />
<text x="25.50" y="450.40" font-size="8.0" text-anchor="middle" font-weight="normal" fill="#222" stroke="#222" stroke-width="0.15" >4</text>
<text x="43.50" y="450.40" font-size="8.0" text-anchor="end" font-weight="normal" fill="#222" stroke="#222" stroke-width="0.15" >C</text>
<line x1="47.90" y1="454.60" x2="50.90" y2="454.60" stroke="#1a1a1a" stroke-width="1.0" />
<text x="25.50" y="458.00" font-size="8.0" text-anchor="middle" font-weight="normal" fill="#222" stroke="#222" stroke-width="0.15" >7</text>
<text x="43.50" y="458.00" font-size="8.0" text-anchor="end" font-weight="normal" fill="#222" stroke="#222" stroke-width="0.15" >F</text>
<line x1="47.90" y1="462.20" x2="50.90" y2="462.20" stroke="#1a1a1a" stroke-width="1.0" />
<text x="25.50" y="465.60" font-size="8.0" text-anchor="middle" font-weight="normal" fill="#222" stroke="#222" stroke-width="0.15" >8</text>
<text x="43.50" y="465.60" font-size="8.0" text-anchor="end" font-weight="normal" fill="#222" stroke="#222" stroke-width="0.15" >G</text>
<line x1="47.90" y1="469.80" x2="50.90" y2="469.80" stroke="#1a1a1a" stroke-width="1.0" />
<text x="25.50" y="473.20" font-size="8.0" text-anchor="middle" font-weight="normal" fill="#222" stroke="#222" stroke-width="0.15" >10</text>
<text x="43.50" y="473.20" font-size="8.0" text-anchor="end" font-weight="normal" fill="#222" stroke="#222" stroke-width="0.15" >I</text>
<line x1="47.90" y1="477.40" x2="50.90" y2="477.40" stroke="#1a1a1a" stroke-width="1.0" />
<text x="25.50" y="480.80" font-size="8.0" text-anchor="middle" font-weight="normal" fill="#222" stroke="#222" stroke-width="0.15" >11</text>
<text x="43.50" y="480.80" font-size="8.0" text-anchor="end" font-weight="normal" fill="#222" stroke="#222" stroke-width="0.15" >J</text>
<line x1="47.90" y1="485.00" x2="50.90" y2="485.00" stroke="#1a1a1a" stroke-width="1.0" />
<text x="25.50" y="488.40" font-size="8.0" text-anchor="middle" font-weight="normal" fill="#222" stroke="#222" stroke-width="0.15" >13</text>
<text x="43.50" y="488.40" font-size="8.0" text-anchor="end" font-weight="normal" fill="#222" stroke="#222" stroke-width="0.15" >L</text>
<line x1="47.90" y1="492.60" x2="50.90" y2="492.60" stroke="#1a1a1a" stroke-width="1.0" />
<text x="25.50" y="496.00" font-size="8.0" text-anchor="middle" font-weight="normal" fill="#222" stroke="#222" stroke-width="0.15" >14</text>
<text x="43.50" y="496.00" font-size="8.0" text-anchor="end" font-weight="normal" fill="#222" stroke="#222" stroke-width="0.15" >M</text>
<line x1="47.90" y1="500.20" x2="50.90" y2="500.20" stroke="#1a1a1a" stroke-width="1.0" />
<text x="25.50" y="503.60" font-size="8.0" text-anchor="middle" font-weight="normal" fill="#222" stroke="#222" stroke-width="0.15" >15</text>
<text x="43.50" y="503.60" font-size="8.0" text-anchor="end" font-weight="normal" fill="#222" stroke="#222" stroke-width="0.15" >N</text>
<line x1="47.90" y1="507.80" x2="50.90" y2="507.80" stroke="#1a1a1a" stroke-width="1.0" />
<text x="25.50" y="511.20" font-size="8.0" text-anchor="middle" font-weight="normal" fill="#222" stroke="#222" stroke-width="0.15" >16</text>
<text x="43.50" y="511.20" font-size="8.0" text-anchor="end" font-weight="normal" fill="#222" stroke="#222" stroke-width="0.15" >O</text>
<line x1="47.90" y1="515.40" x2="50.90" y2="515.40" stroke="#1a1a1a" stroke-width="1.0" />
<text x="25.50" y="518.80" font-size="8.0" text-anchor="middle" font-weight="normal" fill="#222" stroke="#222" stroke-width="0.15" >17</text>
<text x="43.50" y="518.80" font-size="8.0" text-anchor="end" font-weight="normal" fill="#222" stroke="#222" stroke-width="0.15" >P</text>
<line x1="47.90" y1="523.00" x2="50.90" y2="523.00" stroke="#1a1a1a" stroke-width="1.0" />
<text x="25.50" y="526.40" font-size="8.0" text-anchor="middle" font-weight="normal" fill="#222" stroke="#222" stroke-width="0.15" >18</text>
<text x="43.50" y="526.40" font-size="8.0" text-anchor="end" font-weight="normal" fill="#222" stroke="#222" stroke-width="0.15" >Q</text>
<line x1="47.90" y1="530.60" x2="50.90" y2="530.60" stroke="#1a1a1a" stroke-width="1.0" />
<text x="25.50" y="534.00" font-size="8.0" text-anchor="middle" font-weight="normal" fill="#222" stroke="#222" stroke-width="0.15" >20</text>
<text x="43.50" y="534.00" font-size="8.0" text-anchor="end" font-weight="normal" fill="#222" stroke="#222" stroke-width="0.15" >S</text>
<line x1="47.90" y1="538.20" x2="50.90" y2="538.20" stroke="#1a1a1a" stroke-width="1.0" />
<text x="25.50" y="541.60" font-size="8.0" text-anchor="middle" font-weight="normal" fill="#222" stroke="#222" stroke-width="0.15" >21</text>
<text x="43.50" y="541.60" font-size="8.0" text-anchor="end" font-weight="normal" fill="#222" stroke="#222" stroke-width="0.15" >T</text>
<line x1="47.90" y1="545.80" x2="50.90" y2="545.80" stroke="#1a1a1a" stroke-width="1.0" />
<text x="25.50" y="549.20" font-size="8.0" text-anchor="middle" font-weight="normal" fill="#222" stroke="#222" stroke-width="0.15" >22</text>
<text x="43.50" y="549.20" font-size="8.0" text-anchor="end" font-weight="normal" fill="#222" stroke="#222" stroke-width="0.15" >U</text>
<line x1="47.90" y1="553.40" x2="50.90" y2="553.40" stroke="#1a1a1a" stroke-width="1.0" />
<text x="25.50" y="556.80" font-size="8.0" text-anchor="middle" font-weight="normal" fill="#222" stroke="#222" stroke-width="0.15" >23</text>
<text x="43.50" y="556.80" font-size="8.0" text-anchor="end" font-weight="normal" fill="#222" stroke="#222" stroke-width="0.15" >V</text>
<line x1="47.90" y1="561.00" x2="50.90" y2="561.00" stroke="#1a1a1a" stroke-width="1.0" />
<text x="25.50" y="564.40" font-size="8.0" text-anchor="middle" font-weight="normal" fill="#222" stroke="#222" stroke-width="0.15" >24</text>
<text x="43.50" y="564.40" font-size="8.0" text-anchor="end" font-weight="normal" fill="#222" stroke="#222" stroke-width="0.15" >W</text>
<line x1="47.90" y1="568.60" x2="50.90" y2="568.60" stroke="#1a1a1a" stroke-width="1.0" />
<text x="25.50" y="572.00" font-size="8.0" text-anchor="middle" font-weight="normal" fill="#222" stroke="#222" stroke-width="0.15" >25</text>
<text x="43.50" y="572.00" font-size="8.0" text-anchor="end" font-weight="normal" fill="#222" stroke="#222" stroke-width="0.15" >X</text>
<line x1="47.90" y1="576.20" x2="50.90" y2="576.20" stroke="#1a1a1a" stroke-width="1.0" />
<text x="25.50" y="579.60" font-size="8.0" text-anchor="middle" font-weight="normal" fill="#222" stroke="#222" stroke-width="0.15" >26</text>
<text x="43.50" y="579.60" font-size="8.0" text-anchor="end" font-weight="normal" fill="#222" stroke="#222" stroke-width="0.15" >Y</text>
<line x1="47.90" y1="583.80" x2="50.90" y2="583.80" stroke="#1a1a1a" stroke-width="1.0" />
<text x="25.50" y="587.20" font-size="8.0" text-anchor="middle" font-weight="normal" fill="#222" stroke="#222" stroke-width="0.15" >27</text>
<text x="43.50" y="587.20" font-size="8.0" text-anchor="end" font-weight="normal" fill="#222" stroke="#222" stroke-width="0.15" >Z</text>
<line x1="50.80" y1="590.60" x2="50.80" y2="593.60" stroke="#1a1a1a" stroke-width="1.0" />
<line x1="79.30" y1="590.60" x2="79.30" y2="593.60" stroke="#1a1a1a" stroke-width="1.0" />
<line x1="107.80" y1="590.60" x2="107.80" y2="593.60" stroke="#1a1a1a" stroke-width="1.0" />
<line x1="136.30" y1="590.60" x2="136.30" y2="593.60" stroke="#1a1a1a" stroke-width="1.0" />
<line x1="164.80" y1="590.60" x2="164.80" y2="593.60" stroke="#1a1a1a" stroke-width="1.0" />
<text x="50.80" y="603.00" font-size="8.1" text-anchor="middle" font-weight="normal" fill="#222" stroke="#222" stroke-width="0.15" >0</text>
<text x="79.30" y="603.00" font-size="8.1" text-anchor="middle" font-weight="normal" fill="#222" stroke="#222" stroke-width="0.15" >20</text>
<text x="107.80" y="603.00" font-size="8.1" text-anchor="middle" font-weight="normal" fill="#222" stroke="#222" stroke-width="0.15" >40</text>
<text x="136.30" y="603.00" font-size="8.1" text-anchor="middle" font-weight="normal" fill="#222" stroke="#222" stroke-width="0.15" >60</text>
<text x="164.80" y="603.00" font-size="8.1" text-anchor="middle" font-weight="normal" fill="#222" stroke="#222" stroke-width="0.15" >80</text>
<text x="68.10" y="616.30" font-size="9.4" fill="#222" stroke="#222" stroke-width="0.15" textLength="79.40" lengthAdjust="spacingAndGlyphs">CDR3β nt sequences (#)</text>
<rect x="221.50" y="436.65" width="18.50" height="6.10" fill="#acd89e"/>
<rect x="240.00" y="436.65" width="18.00" height="6.10" fill="#38ab3a"/>
<rect x="221.50" y="444.25" width="11.10" height="6.10" fill="#38ab3a"/>
<rect x="221.50" y="451.85" width="2.50" height="6.10" fill="#acd89e"/>
<rect x="224.00" y="451.85" width="4.90" height="6.10" fill="#38ab3a"/>
<rect x="221.50" y="459.45" width="38.00" height="6.10" fill="#0b6247"/>
<rect x="259.50" y="459.45" width="22.50" height="6.10" fill="#38ab3a"/>
<rect x="221.50" y="467.05" width="7.25" height="6.10" fill="#38ab3a"/>
<rect x="221.50" y="474.65" width="3.00" height="6.10" fill="#acd89e"/>
<rect x="224.50" y="474.65" width="52.50" height="6.10" fill="#0b6247"/>
<rect x="277.00" y="474.65" width="12.50" height="6.10" fill="#38ab3a"/>
<rect x="221.50" y="482.25" width="44.25" height="6.10" fill="#38ab3a"/>
<rect x="221.50" y="489.85" width="3.00" height="6.10" fill="#acd89e"/>
<rect x="224.50" y="489.85" width="9.75" height="6.10" fill="#38ab3a"/>
<rect x="221.50" y="497.45" width="3.50" height="6.10" fill="#38ab3a"/>
<rect x="221.50" y="505.05" width="26.50" height="6.10" fill="#38ab3a"/>
<rect x="221.50" y="512.65" width="13.50" height="6.10" fill="#38ab3a"/>
<rect x="221.50" y="520.25" width="24.00" height="6.10" fill="#38ab3a"/>
<rect x="221.50" y="527.85" width="24.00" height="6.10" fill="#38ab3a"/>
<rect x="221.50" y="535.45" width="35.25" height="6.10" fill="#0b6247"/>
<rect x="256.75" y="535.45" width="12.00" height="6.10" fill="#38ab3a"/>
<rect x="221.50" y="543.05" width="6.00" height="6.10" fill="#0b6247"/>
<rect x="221.50" y="550.65" width="89.00" height="6.10" fill="#0b6247"/>
<rect x="310.50" y="550.65" width="14.00" height="6.10" fill="#38ab3a"/>
<rect x="221.50" y="558.25" width="4.00" height="6.10" fill="#acd89e"/>
<rect x="225.50" y="558.25" width="20.00" height="6.10" fill="#38ab3a"/>
<rect x="221.50" y="565.85" width="12.25" height="6.10" fill="#38ab3a"/>
<rect x="221.50" y="573.45" width="20.50" height="6.10" fill="#acd89e"/>
<rect x="242.00" y="573.45" width="26.00" height="6.10" fill="#38ab3a"/>
<rect x="221.50" y="581.05" width="4.75" height="6.10" fill="#acd89e"/>
<rect x="226.25" y="581.05" width="8.75" height="6.10" fill="#38ab3a"/>
<line x1="220.50" y1="432.30" x2="220.50" y2="591.20" stroke="#111" stroke-width="1.4" />
<line x1="219.90" y1="590.60" x2="335.30" y2="590.60" stroke="#111" stroke-width="1.4" />
<line x1="217.50" y1="439.40" x2="220.50" y2="439.40" stroke="#1a1a1a" stroke-width="1.0" />
<text x="195.10" y="442.80" font-size="8.0" text-anchor="middle" font-weight="normal" fill="#222" stroke="#222" stroke-width="0.15" >3</text>
<text x="213.10" y="442.80" font-size="8.0" text-anchor="end" font-weight="normal" fill="#222" stroke="#222" stroke-width="0.15" >B</text>
<line x1="217.50" y1="447.00" x2="220.50" y2="447.00" stroke="#1a1a1a" stroke-width="1.0" />
<text x="195.10" y="450.40" font-size="8.0" text-anchor="middle" font-weight="normal" fill="#222" stroke="#222" stroke-width="0.15" >4</text>
<text x="213.10" y="450.40" font-size="8.0" text-anchor="end" font-weight="normal" fill="#222" stroke="#222" stroke-width="0.15" >C</text>
<line x1="217.50" y1="454.60" x2="220.50" y2="454.60" stroke="#1a1a1a" stroke-width="1.0" />
<text x="195.10" y="458.00" font-size="8.0" text-anchor="middle" font-weight="normal" fill="#222" stroke="#222" stroke-width="0.15" >7</text>
<text x="213.10" y="458.00" font-size="8.0" text-anchor="end" font-weight="normal" fill="#222" stroke="#222" stroke-width="0.15" >F</text>
<line x1="217.50" y1="462.20" x2="220.50" y2="462.20" stroke="#1a1a1a" stroke-width="1.0" />
<text x="195.10" y="465.60" font-size="8.0" text-anchor="middle" font-weight="normal" fill="#222" stroke="#222" stroke-width="0.15" >8</text>
<text x="213.10" y="465.60" font-size="8.0" text-anchor="end" font-weight="normal" fill="#222" stroke="#222" stroke-width="0.15" >G</text>
<line x1="217.50" y1="469.80" x2="220.50" y2="469.80" stroke="#1a1a1a" stroke-width="1.0" />
<text x="195.10" y="473.20" font-size="8.0" text-anchor="middle" font-weight="normal" fill="#222" stroke="#222" stroke-width="0.15" >10</text>
<text x="213.10" y="473.20" font-size="8.0" text-anchor="end" font-weight="normal" fill="#222" stroke="#222" stroke-width="0.15" >I</text>
<line x1="217.50" y1="477.40" x2="220.50" y2="477.40" stroke="#1a1a1a" stroke-width="1.0" />
<text x="195.10" y="480.80" font-size="8.0" text-anchor="middle" font-weight="normal" fill="#222" stroke="#222" stroke-width="0.15" >11</text>
<text x="213.10" y="480.80" font-size="8.0" text-anchor="end" font-weight="normal" fill="#222" stroke="#222" stroke-width="0.15" >J</text>
<line x1="217.50" y1="485.00" x2="220.50" y2="485.00" stroke="#1a1a1a" stroke-width="1.0" />
<text x="195.10" y="488.40" font-size="8.0" text-anchor="middle" font-weight="normal" fill="#222" stroke="#222" stroke-width="0.15" >13</text>
<text x="213.10" y="488.40" font-size="8.0" text-anchor="end" font-weight="normal" fill="#222" stroke="#222" stroke-width="0.15" >L</text>
<line x1="217.50" y1="492.60" x2="220.50" y2="492.60" stroke="#1a1a1a" stroke-width="1.0" />
<text x="195.10" y="496.00" font-size="8.0" text-anchor="middle" font-weight="normal" fill="#222" stroke="#222" stroke-width="0.15" >14</text>
<text x="213.10" y="496.00" font-size="8.0" text-anchor="end" font-weight="normal" fill="#222" stroke="#222" stroke-width="0.15" >M</text>
<line x1="217.50" y1="500.20" x2="220.50" y2="500.20" stroke="#1a1a1a" stroke-width="1.0" />
<text x="195.10" y="503.60" font-size="8.0" text-anchor="middle" font-weight="normal" fill="#222" stroke="#222" stroke-width="0.15" >15</text>
<text x="213.10" y="503.60" font-size="8.0" text-anchor="end" font-weight="normal" fill="#222" stroke="#222" stroke-width="0.15" >N</text>
<line x1="217.50" y1="507.80" x2="220.50" y2="507.80" stroke="#1a1a1a" stroke-width="1.0" />
<text x="195.10" y="511.20" font-size="8.0" text-anchor="middle" font-weight="normal" fill="#222" stroke="#222" stroke-width="0.15" >16</text>
<text x="213.10" y="511.20" font-size="8.0" text-anchor="end" font-weight="normal" fill="#222" stroke="#222" stroke-width="0.15" >O</text>
<line x1="217.50" y1="515.40" x2="220.50" y2="515.40" stroke="#1a1a1a" stroke-width="1.0" />
<text x="195.10" y="518.80" font-size="8.0" text-anchor="middle" font-weight="normal" fill="#222" stroke="#222" stroke-width="0.15" >17</text>
<text x="213.10" y="518.80" font-size="8.0" text-anchor="end" font-weight="normal" fill="#222" stroke="#222" stroke-width="0.15" >P</text>
<line x1="217.50" y1="523.00" x2="220.50" y2="523.00" stroke="#1a1a1a" stroke-width="1.0" />
<text x="195.10" y="526.40" font-size="8.0" text-anchor="middle" font-weight="normal" fill="#222" stroke="#222" stroke-width="0.15" >18</text>
<text x="213.10" y="526.40" font-size="8.0" text-anchor="end" font-weight="normal" fill="#222" stroke="#222" stroke-width="0.15" >Q</text>
<line x1="217.50" y1="530.60" x2="220.50" y2="530.60" stroke="#1a1a1a" stroke-width="1.0" />
<text x="195.10" y="534.00" font-size="8.0" text-anchor="middle" font-weight="normal" fill="#222" stroke="#222" stroke-width="0.15" >20</text>
<text x="213.10" y="534.00" font-size="8.0" text-anchor="end" font-weight="normal" fill="#222" stroke="#222" stroke-width="0.15" >S</text>
<line x1="217.50" y1="538.20" x2="220.50" y2="538.20" stroke="#1a1a1a" stroke-width="1.0" />
<text x="195.10" y="541.60" font-size="8.0" text-anchor="middle" font-weight="normal" fill="#222" stroke="#222" stroke-width="0.15" >21</text>
<text x="213.10" y="541.60" font-size="8.0" text-anchor="end" font-weight="normal" fill="#222" stroke="#222" stroke-width="0.15" >T</text>
<line x1="217.50" y1="545.80" x2="220.50" y2="545.80" stroke="#1a1a1a" stroke-width="1.0" />
<text x="195.10" y="549.20" font-size="8.0" text-anchor="middle" font-weight="normal" fill="#222" stroke="#222" stroke-width="0.15" >22</text>
<text x="213.10" y="549.20" font-size="8.0" text-anchor="end" font-weight="normal" fill="#222" stroke="#222" stroke-width="0.15" >U</text>
<line x1="217.50" y1="553.40" x2="220.50" y2="553.40" stroke="#1a1a1a" stroke-width="1.0" />
<text x="195.10" y="556.80" font-size="8.0" text-anchor="middle" font-weight="normal" fill="#222" stroke="#222" stroke-width="0.15" >23</text>
<text x="213.10" y="556.80" font-size="8.0" text-anchor="end" font-weight="normal" fill="#222" stroke="#222" stroke-width="0.15" >V</text>
<line x1="217.50" y1="561.00" x2="220.50" y2="561.00" stroke="#1a1a1a" stroke-width="1.0" />
<text x="195.10" y="564.40" font-size="8.0" text-anchor="middle" font-weight="normal" fill="#222" stroke="#222" stroke-width="0.15" >24</text>
<text x="213.10" y="564.40" font-size="8.0" text-anchor="end" font-weight="normal" fill="#222" stroke="#222" stroke-width="0.15" >W</text>
<line x1="217.50" y1="568.60" x2="220.50" y2="568.60" stroke="#1a1a1a" stroke-width="1.0" />
<text x="195.10" y="572.00" font-size="8.0" text-anchor="middle" font-weight="normal" fill="#222" stroke="#222" stroke-width="0.15" >25</text>
<text x="213.10" y="572.00" font-size="8.0" text-anchor="end" font-weight="normal" fill="#222" stroke="#222" stroke-width="0.15" >X</text>
<line x1="217.50" y1="576.20" x2="220.50" y2="576.20" stroke="#1a1a1a" stroke-width="1.0" />
<text x="195.10" y="579.60" font-size="8.0" text-anchor="middle" font-weight="normal" fill="#222" stroke="#222" stroke-width="0.15" >26</text>
<text x="213.10" y="579.60" font-size="8.0" text-anchor="end" font-weight="normal" fill="#222" stroke="#222" stroke-width="0.15" >Y</text>
<line x1="217.50" y1="583.80" x2="220.50" y2="583.80" stroke="#1a1a1a" stroke-width="1.0" />
<text x="195.10" y="587.20" font-size="8.0" text-anchor="middle" font-weight="normal" fill="#222" stroke="#222" stroke-width="0.15" >27</text>
<text x="213.10" y="587.20" font-size="8.0" text-anchor="end" font-weight="normal" fill="#222" stroke="#222" stroke-width="0.15" >Z</text>
<line x1="220.30" y1="590.60" x2="220.30" y2="593.60" stroke="#1a1a1a" stroke-width="1.0" />
<line x1="257.63" y1="590.60" x2="257.63" y2="593.60" stroke="#1a1a1a" stroke-width="1.0" />
<line x1="294.96" y1="590.60" x2="294.96" y2="593.60" stroke="#1a1a1a" stroke-width="1.0" />
<line x1="332.29" y1="590.60" x2="332.29" y2="593.60" stroke="#1a1a1a" stroke-width="1.0" />
<text x="220.30" y="603.00" font-size="8.1" text-anchor="middle" font-weight="normal" fill="#222" stroke="#222" stroke-width="0.15" >0</text>
<text x="257.63" y="603.00" font-size="8.1" text-anchor="middle" font-weight="normal" fill="#222" stroke="#222" stroke-width="0.15" >50</text>
<text x="294.96" y="603.00" font-size="8.1" text-anchor="middle" font-weight="normal" fill="#222" stroke="#222" stroke-width="0.15" >100</text>
<text x="332.29" y="603.00" font-size="8.1" text-anchor="middle" font-weight="normal" fill="#222" stroke="#222" stroke-width="0.15" >150</text>
<text x="236.25" y="616.30" font-size="9.4" fill="#222" stroke="#222" stroke-width="0.15" textLength="78.50" lengthAdjust="spacingAndGlyphs">CDR3β nt sequences (#)</text>
<rect x="401.70" y="436.65" width="35.40" height="6.10" fill="#f1c2b9"/>
<rect x="401.70" y="444.25" width="4.10" height="6.10" fill="#f1c2b9"/>
<rect x="401.70" y="451.85" width="11.30" height="6.10" fill="#f1c2b9"/>
<rect x="413.00" y="451.85" width="10.80" height="6.10" fill="#e0897a"/>
<rect x="401.70" y="459.45" width="16.60" height="6.10" fill="#f1c2b9"/>
<rect x="401.70" y="467.05" width="17.80" height="6.10" fill="#f1c2b9"/>
<rect x="401.70" y="474.65" width="25.80" height="6.10" fill="#f1c2b9"/>
<rect x="401.70" y="482.25" width="7.20" height="6.10" fill="#f1c2b9"/>
<rect x="408.90" y="482.25" width="63.70" height="6.10" fill="#e0897a"/>
<rect x="401.70" y="489.85" width="15.40" height="6.10" fill="#f1c2b9"/>
<rect x="417.10" y="489.85" width="10.80" height="6.10" fill="#c8001e"/>
<rect x="401.70" y="505.05" width="23.30" height="6.10" fill="#f1c2b9"/>
<rect x="425.00" y="505.05" width="76.50" height="6.10" fill="#e0897a"/>
<rect x="401.70" y="512.65" width="22.10" height="6.10" fill="#f1c2b9"/>
<rect x="423.80" y="512.65" width="64.20" height="6.10" fill="#e0897a"/>
<rect x="401.70" y="520.25" width="5.80" height="6.10" fill="#f1c2b9"/>
<rect x="401.70" y="527.85" width="24.55" height="6.10" fill="#f1c2b9"/>
<rect x="401.70" y="535.45" width="35.80" height="6.10" fill="#e0897a"/>
<rect x="401.70" y="550.65" width="10.10" height="6.10" fill="#f1c2b9"/>
<rect x="411.80" y="550.65" width="17.30" height="6.10" fill="#e0897a"/>
<rect x="401.70" y="565.85" width="30.10" height="6.10" fill="#f1c2b9"/>
<rect x="401.70" y="573.45" width="57.50" height="6.10" fill="#f1c2b9"/>
<rect x="401.70" y="581.05" width="1.70" height="6.10" fill="#f1c2b9"/>
<line x1="400.70" y1="432.30" x2="400.70" y2="591.20" stroke="#111" stroke-width="1.4" />
<line x1="400.10" y1="590.60" x2="513.20" y2="590.60" stroke="#111" stroke-width="1.4" />
<line x1="397.70" y1="439.40" x2="400.70" y2="439.40" stroke="#1a1a1a" stroke-width="1.0" />
<text x="375.30" y="442.80" font-size="8.0" text-anchor="middle" font-weight="normal" fill="#222" stroke="#222" stroke-width="0.15" >3</text>
<text x="393.30" y="442.80" font-size="8.0" text-anchor="end" font-weight="normal" fill="#222" stroke="#222" stroke-width="0.15" >B</text>
<line x1="397.70" y1="447.00" x2="400.70" y2="447.00" stroke="#1a1a1a" stroke-width="1.0" />
<text x="375.30" y="450.40" font-size="8.0" text-anchor="middle" font-weight="normal" fill="#222" stroke="#222" stroke-width="0.15" >4</text>
<text x="393.30" y="450.40" font-size="8.0" text-anchor="end" font-weight="normal" fill="#222" stroke="#222" stroke-width="0.15" >C</text>
<line x1="397.70" y1="454.60" x2="400.70" y2="454.60" stroke="#1a1a1a" stroke-width="1.0" />
<text x="375.30" y="458.00" font-size="8.0" text-anchor="middle" font-weight="normal" fill="#222" stroke="#222" stroke-width="0.15" >7</text>
<text x="393.30" y="458.00" font-size="8.0" text-anchor="end" font-weight="normal" fill="#222" stroke="#222" stroke-width="0.15" >F</text>
<line x1="397.70" y1="462.20" x2="400.70" y2="462.20" stroke="#1a1a1a" stroke-width="1.0" />
<text x="375.30" y="465.60" font-size="8.0" text-anchor="middle" font-weight="normal" fill="#222" stroke="#222" stroke-width="0.15" >8</text>
<text x="393.30" y="465.60" font-size="8.0" text-anchor="end" font-weight="normal" fill="#222" stroke="#222" stroke-width="0.15" >G</text>
<line x1="397.70" y1="469.80" x2="400.70" y2="469.80" stroke="#1a1a1a" stroke-width="1.0" />
<text x="375.30" y="473.20" font-size="8.0" text-anchor="middle" font-weight="normal" fill="#222" stroke="#222" stroke-width="0.15" >10</text>
<text x="393.30" y="473.20" font-size="8.0" text-anchor="end" font-weight="normal" fill="#222" stroke="#222" stroke-width="0.15" >I</text>
<line x1="397.70" y1="477.40" x2="400.70" y2="477.40" stroke="#1a1a1a" stroke-width="1.0" />
<text x="375.30" y="480.80" font-size="8.0" text-anchor="middle" font-weight="normal" fill="#222" stroke="#222" stroke-width="0.15" >11</text>
<text x="393.30" y="480.80" font-size="8.0" text-anchor="end" font-weight="normal" fill="#222" stroke="#222" stroke-width="0.15" >J</text>
<line x1="397.70" y1="485.00" x2="400.70" y2="485.00" stroke="#1a1a1a" stroke-width="1.0" />
<text x="375.30" y="488.40" font-size="8.0" text-anchor="middle" font-weight="normal" fill="#222" stroke="#222" stroke-width="0.15" >13</text>
<text x="393.30" y="488.40" font-size="8.0" text-anchor="end" font-weight="normal" fill="#222" stroke="#222" stroke-width="0.15" >L</text>
<line x1="397.70" y1="492.60" x2="400.70" y2="492.60" stroke="#1a1a1a" stroke-width="1.0" />
<text x="375.30" y="496.00" font-size="8.0" text-anchor="middle" font-weight="normal" fill="#222" stroke="#222" stroke-width="0.15" >14</text>
<text x="393.30" y="496.00" font-size="8.0" text-anchor="end" font-weight="normal" fill="#222" stroke="#222" stroke-width="0.15" >M</text>
<line x1="397.70" y1="500.20" x2="400.70" y2="500.20" stroke="#1a1a1a" stroke-width="1.0" />
<text x="375.30" y="503.60" font-size="8.0" text-anchor="middle" font-weight="normal" fill="#222" stroke="#222" stroke-width="0.15" >15</text>
<text x="393.30" y="503.60" font-size="8.0" text-anchor="end" font-weight="normal" fill="#222" stroke="#222" stroke-width="0.15" >N</text>
<line x1="397.70" y1="507.80" x2="400.70" y2="507.80" stroke="#1a1a1a" stroke-width="1.0" />
<text x="375.30" y="511.20" font-size="8.0" text-anchor="middle" font-weight="normal" fill="#222" stroke="#222" stroke-width="0.15" >16</text>
<text x="393.30" y="511.20" font-size="8.0" text-anchor="end" font-weight="normal" fill="#222" stroke="#222" stroke-width="0.15" >O</text>
<line x1="397.70" y1="515.40" x2="400.70" y2="515.40" stroke="#1a1a1a" stroke-width="1.0" />
<text x="375.30" y="518.80" font-size="8.0" text-anchor="middle" font-weight="normal" fill="#222" stroke="#222" stroke-width="0.15" >17</text>
<text x="393.30" y="518.80" font-size="8.0" text-anchor="end" font-weight="normal" fill="#222" stroke="#222" stroke-width="0.15" >P</text>
<line x1="397.70" y1="523.00" x2="400.70" y2="523.00" stroke="#1a1a1a" stroke-width="1.0" />
<text x="375.30" y="526.40" font-size="8.0" text-anchor="middle" font-weight="normal" fill="#222" stroke="#222" stroke-width="0.15" >18</text>
<text x="393.30" y="526.40" font-size="8.0" text-anchor="end" font-weight="normal" fill="#222" stroke="#222" stroke-width="0.15" >Q</text>
<line x1="397.70" y1="530.60" x2="400.70" y2="530.60" stroke="#1a1a1a" stroke-width="1.0" />
<text x="375.30" y="534.00" font-size="8.0" text-anchor="middle" font-weight="normal" fill="#222" stroke="#222" stroke-width="0.15" >20</text>
<text x="393.30" y="534.00" font-size="8.0" text-anchor="end" font-weight="normal" fill="#222" stroke="#222" stroke-width="0.15" >S</text>
<line x1="397.70" y1="538.20" x2="400.70" y2="538.20" stroke="#1a1a1a" stroke-width="1.0" />
<text x="375.30" y="541.60" font-size="8.0" text-anchor="middle" font-weight="normal" fill="#222" stroke="#222" stroke-width="0.15" >21</text>
<text x="393.30" y="541.60" font-size="8.0" text-anchor="end" font-weight="normal" fill="#222" stroke="#222" stroke-width="0.15" >T</text>
<line x1="397.70" y1="545.80" x2="400.70" y2="545.80" stroke="#1a1a1a" stroke-width="1.0" />
<text x="375.30" y="549.20" font-size="8.0" text-anchor="middle" font-weight="normal" fill="#222" stroke="#222" stroke-width="0.15" >22</text>
<text x="393.30" y="549.20" font-size="8.0" text-anchor="end" font-weight="normal" fill="#222" stroke="#222" stroke-width="0.15" >U</text>
<line x1="397.70" y1="553.40" x2="400.70" y2="553.40" stroke="#1a1a1a" stroke-width="1.0" />
<text x="375.30" y="556.80" font-size="8.0" text-anchor="middle" font-weight="normal" fill="#222" stroke="#222" stroke-width="0.15" >23</text>
<text x="393.30" y="556.80" font-size="8.0" text-anchor="end" font-weight="normal" fill="#222" stroke="#222" stroke-width="0.15" >V</text>
<line x1="397.70" y1="561.00" x2="400.70" y2="561.00" stroke="#1a1a1a" stroke-width="1.0" />
<text x="375.30" y="564.40" font-size="8.0" text-anchor="middle" font-weight="normal" fill="#222" stroke="#222" stroke-width="0.15" >24</text>
<text x="393.30" y="564.40" font-size="8.0" text-anchor="end" font-weight="normal" fill="#222" stroke="#222" stroke-width="0.15" >W</text>
<line x1="397.70" y1="568.60" x2="400.70" y2="568.60" stroke="#1a1a1a" stroke-width="1.0" />
<text x="375.30" y="572.00" font-size="8.0" text-anchor="middle" font-weight="normal" fill="#222" stroke="#222" stroke-width="0.15" >25</text>
<text x="393.30" y="572.00" font-size="8.0" text-anchor="end" font-weight="normal" fill="#222" stroke="#222" stroke-width="0.15" >X</text>
<line x1="397.70" y1="576.20" x2="400.70" y2="576.20" stroke="#1a1a1a" stroke-width="1.0" />
<text x="375.30" y="579.60" font-size="8.0" text-anchor="middle" font-weight="normal" fill="#222" stroke="#222" stroke-width="0.15" >26</text>
<text x="393.30" y="579.60" font-size="8.0" text-anchor="end" font-weight="normal" fill="#222" stroke="#222" stroke-width="0.15" >Y</text>
<line x1="397.70" y1="583.80" x2="400.70" y2="583.80" stroke="#1a1a1a" stroke-width="1.0" />
<text x="375.30" y="587.20" font-size="8.0" text-anchor="middle" font-weight="normal" fill="#222" stroke="#222" stroke-width="0.15" >27</text>
<text x="393.30" y="587.20" font-size="8.0" text-anchor="end" font-weight="normal" fill="#222" stroke="#222" stroke-width="0.15" >Z</text>
<line x1="400.80" y1="590.60" x2="400.80" y2="593.60" stroke="#1a1a1a" stroke-width="1.0" />
<line x1="428.20" y1="590.60" x2="428.20" y2="593.60" stroke="#1a1a1a" stroke-width="1.0" />
<line x1="455.60" y1="590.60" x2="455.60" y2="593.60" stroke="#1a1a1a" stroke-width="1.0" />
<line x1="483.00" y1="590.60" x2="483.00" y2="593.60" stroke="#1a1a1a" stroke-width="1.0" />
<line x1="510.40" y1="590.60" x2="510.40" y2="593.60" stroke="#1a1a1a" stroke-width="1.0" />
<text x="400.80" y="603.00" font-size="8.1" text-anchor="middle" font-weight="normal" fill="#222" stroke="#222" stroke-width="0.15" >0</text>
<text x="428.20" y="603.00" font-size="8.1" text-anchor="middle" font-weight="normal" fill="#222" stroke="#222" stroke-width="0.15" >20</text>
<text x="455.60" y="603.00" font-size="8.1" text-anchor="middle" font-weight="normal" fill="#222" stroke="#222" stroke-width="0.15" >40</text>
<text x="483.00" y="603.00" font-size="8.1" text-anchor="middle" font-weight="normal" fill="#222" stroke="#222" stroke-width="0.15" >60</text>
<text x="510.40" y="603.00" font-size="8.1" text-anchor="middle" font-weight="normal" fill="#222" stroke="#222" stroke-width="0.15" >80</text>
<text x="415.40" y="616.30" font-size="9.4" fill="#222" stroke="#222" stroke-width="0.15" textLength="79.20" lengthAdjust="spacingAndGlyphs">CDR3β nt sequences (#)</text>
<text x="28.10" y="202.00" font-size="8.0" fill="#222" stroke="#222" stroke-width="0.15" transform="rotate(-45 28.10 202.00)">Patient IDS</text>
<text x="45.30" y="202.00" font-size="8.0" fill="#222" stroke="#222" stroke-width="0.15" transform="rotate(-45 45.30 202.00)">Product IDS</text>
<text x="194.40" y="202.00" font-size="8.0" fill="#222" stroke="#222" stroke-width="0.15" transform="rotate(-45 194.40 202.00)">Patient IDS</text>
<text x="211.60" y="202.00" font-size="8.0" fill="#222" stroke="#222" stroke-width="0.15" transform="rotate(-45 211.60 202.00)">Product IDS</text>
<text x="374.70" y="202.00" font-size="8.0" fill="#222" stroke="#222" stroke-width="0.15" transform="rotate(-45 374.70 202.00)">Patient IDS</text>
<text x="391.90" y="202.00" font-size="8.0" fill="#222" stroke="#222" stroke-width="0.15" transform="rotate(-45 391.90 202.00)">Product IDS</text>
<rect x="37.30" y="639.30" width="13.40" height="7.00" fill="#fde2c8"/>
<text x="58.50" y="645.50" font-size="7.75" fill="#222" stroke="#222" stroke-width="0.15">CMV-pp50<tspan font-size="5.1" dx="0.5" dy="-3.3">VTE</tspan></text>
<rect x="37.30" y="652.00" width="13.40" height="7.00" fill="#fccf9f"/>
<text x="58.50" y="658.20" font-size="7.75" fill="#222" stroke="#222" stroke-width="0.15">CMV-pp65<tspan font-size="5.1" dx="0.5" dy="-3.3">NLV</tspan></text>
<rect x="37.30" y="664.70" width="13.40" height="7.00" fill="#fbb56c"/>
<text x="58.50" y="670.90" font-size="7.75" fill="#222" stroke="#222" stroke-width="0.15">CMV-IE1<tspan font-size="5.1" dx="0.5" dy="-3.3">VLE</tspan></text>
<rect x="122.40" y="639.30" width="13.40" height="7.00" fill="#f5a23c"/>
<text x="143.80" y="645.50" font-size="7.75" fill="#222" stroke="#222" stroke-width="0.15">CMV-IE1<tspan font-size="5.1" dx="0.5" dy="-3.3">QIK</tspan></text>
<rect x="122.40" y="652.00" width="13.40" height="7.00" fill="#f38a0c"/>
<text x="143.80" y="658.20" font-size="7.75" fill="#222" stroke="#222" stroke-width="0.15">CMV-pp65<tspan font-size="5.1" dx="0.5" dy="-3.3">QYD</tspan></text>
<rect x="122.40" y="664.70" width="13.40" height="7.00" fill="#b9651b"/>
<text x="143.80" y="670.90" font-size="7.75" fill="#222" stroke="#222" stroke-width="0.15">CMV-pp65<tspan font-size="5.1" dx="0.5" dy="-3.3">TPR</tspan></text>
<rect x="223.00" y="639.30" width="13.40" height="7.00" fill="#acd89e"/>
<text x="244.20" y="645.50" font-size="7.75" fill="#222" stroke="#222" stroke-width="0.15">EBV-EBNA3A<tspan font-size="5.1" dx="0.5" dy="-3.3">RPP</tspan></text>
<rect x="223.00" y="652.00" width="13.40" height="7.00" fill="#0b6247"/>
<text x="244.20" y="658.20" font-size="7.75" fill="#222" stroke="#222" stroke-width="0.15">EBV-BZLF1<tspan font-size="5.1" dx="0.5" dy="-3.3">RAK</tspan></text>
<rect x="223.00" y="664.70" width="13.40" height="7.00" fill="#38ab3a"/>
<text x="244.20" y="670.90" font-size="7.75" fill="#222" stroke="#222" stroke-width="0.15">EBV-BMLF1<tspan font-size="5.1" dx="0.5" dy="-3.3">GLC</tspan></text>
<rect x="346.00" y="639.30" width="13.40" height="7.00" fill="#f1c2b9"/>
<text x="367.30" y="645.50" font-size="7.75" fill="#222" stroke="#222" stroke-width="0.15">AdV-E1A<tspan font-size="5.1" dx="0.5" dy="-3.3">LLD</tspan></text>
<rect x="346.00" y="652.00" width="13.40" height="7.00" fill="#e0897a"/>
<text x="367.30" y="658.20" font-size="7.75" fill="#222" stroke="#222" stroke-width="0.15">AdV-HEXON<tspan font-size="5.1" dx="0.5" dy="-3.3">TYF</tspan></text>
<rect x="443.60" y="639.30" width="13.40" height="7.00" fill="#d65548"/>
<text x="465.00" y="645.50" font-size="7.75" fill="#222" stroke="#222" stroke-width="0.15">AdV-HEXON<tspan font-size="5.1" dx="0.5" dy="-3.3">TDL</tspan></text>
<rect x="443.60" y="652.00" width="13.40" height="7.00" fill="#c8001e"/>
<text x="465.00" y="658.20" font-size="7.75" fill="#222" stroke="#222" stroke-width="0.15">AdV-HEXON<tspan font-size="5.1" dx="0.5" dy="-3.3">KPY</tspan></text>
</svg>
</body></html>
